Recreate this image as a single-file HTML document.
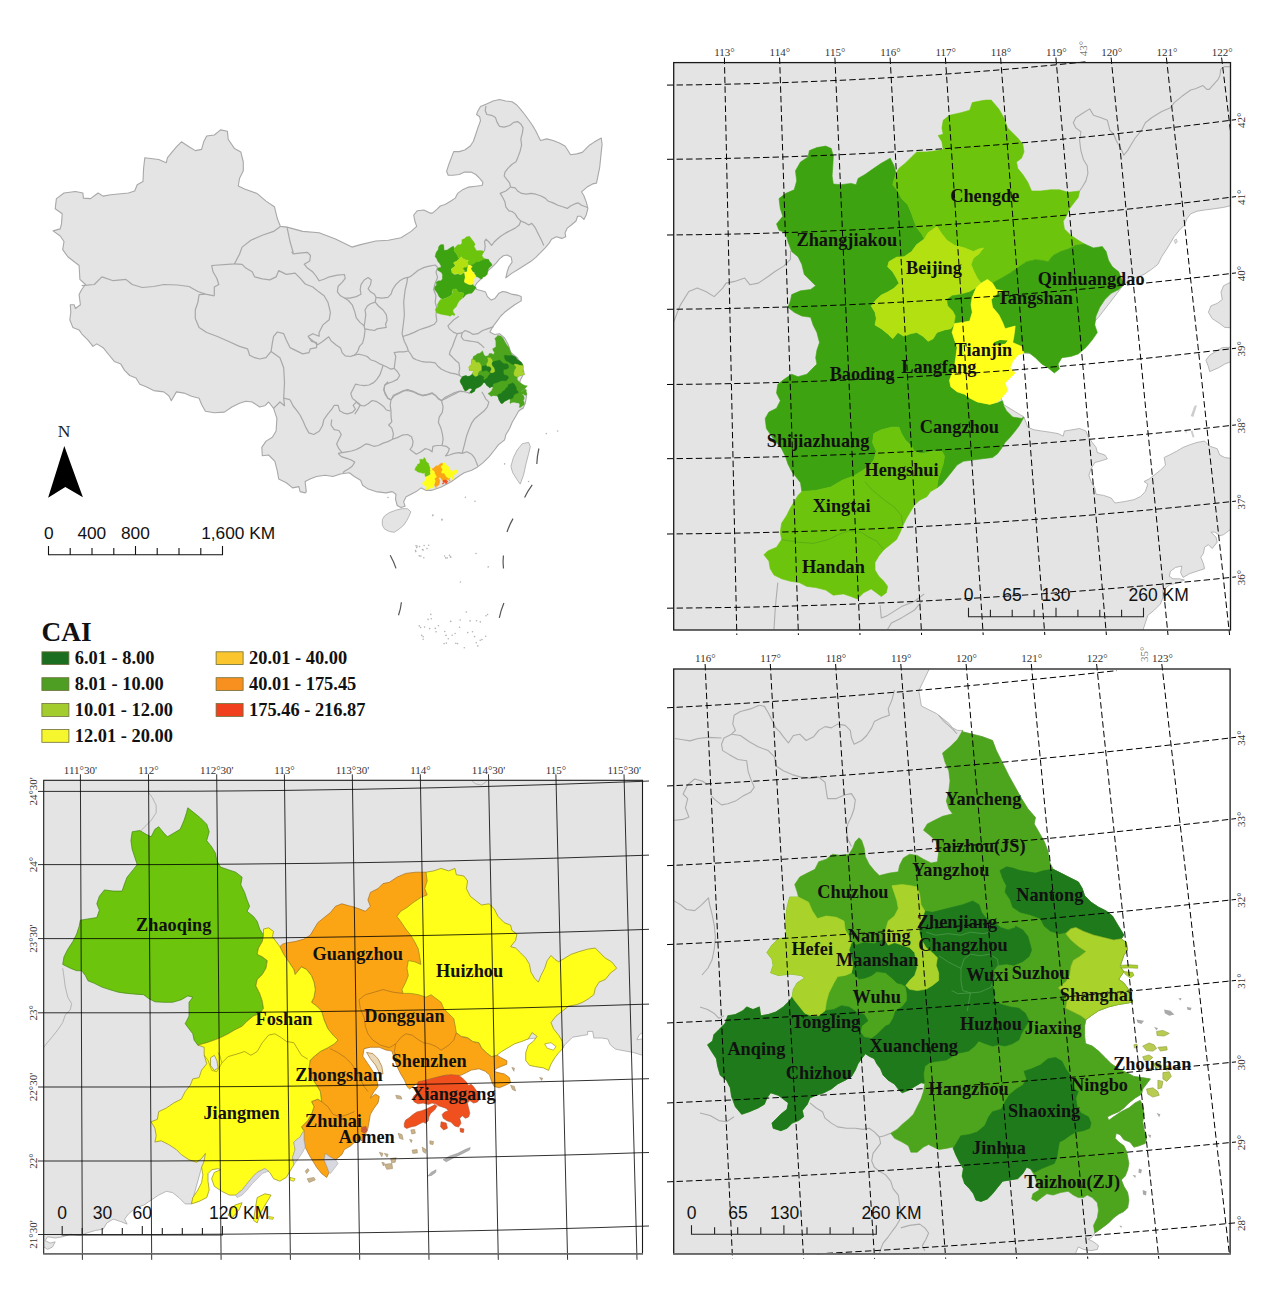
<!DOCTYPE html>
<html><head><meta charset="utf-8"><title>CAI map</title>
<style>
html,body{margin:0;padding:0;background:#fff;}
body{width:1267px;height:1299px;overflow:hidden;font-family:"Liberation Sans",sans-serif;}
svg{display:block;}
.ser{font-family:"Liberation Serif",serif;}
.san{font-family:"Liberation Sans",sans-serif;}
.lab{font-family:"Liberation Serif",serif;font-weight:bold;font-size:18.3px;fill:#111;}
.deg{font-family:"Liberation Serif",serif;font-size:11px;fill:#333;}
</style></head><body>
<svg width="1267" height="1299" viewBox="0 0 1267 1299">
<!-- 10_china.py -->
<path d="M220.6,129.9 227.4,131.2 228.2,139.3 234.5,148.6 240.8,151.9 243.3,162 243.3,170.8 239.5,178.4 238.3,186 244.6,189 257.2,193.6 266,201.1 274.4,206.7 277.4,218.8 280.4,226.4 287,227.1 302.7,231.4 319.1,232.7 335.5,239 351.9,247.1 360.6,244.6 375.8,241 388.4,240.3 401,237.8 411.1,231.4 416.7,226.4 414.9,221.3 413.7,215 417.4,210.7 423.8,210 430,213.1 432.4,213.1 437.1,209.2 440.3,206 445,204.4 450.5,201.3 455.3,198.1 457.6,193.4 463.1,189.4 468.7,187.1 475.8,186.3 482.1,185.5 482.9,182.3 479.7,178.4 475.8,174.5 471,172.1 464.7,172.1 459.2,174.5 452.9,175.2 448.2,175.2 446.6,171.3 448.9,164.2 451.3,157.9 453.7,151.6 459.2,151.6 464.7,150 470.3,146 473.4,141.3 475.8,134.2 478.1,127.1 480.5,120.8 479.7,116.8 476.6,114.5 477.4,112.1 480.5,106.6 486,104.2 493.1,101 499.5,99.5 505.8,101 512.1,101.8 516.8,105 520.8,109.7 524.7,114.5 528.7,120 532.6,125.5 535.8,131 538.1,135.8 540.5,140.5 546.8,138.9 553.1,140.5 559.4,142.9 565,146 568.1,150.8 570.5,154.7 576.8,153.9 582.3,152.4 585.5,149.2 589.4,145.2 594.2,142.1 601.3,138.1 602.1,144.5 601.3,151.6 600.5,159.5 599.7,167.3 598.1,175.2 596.5,183.1 592.6,183.9 587.1,187.1 581.5,191.8 583.9,195.8 586.3,202.1 587.9,208.4 586.3,214.7 583.9,219.4 580.7,216.3 577.6,216.3 576,221 571.3,225 567.3,228.1 565,232.9 565.8,236.8 561.8,238.4 556.3,236.8 551.5,239.2 549.2,243.1 545.2,247.9 540.5,252.6 535.8,257.3 531,261.3 524.7,265.2 518.4,269.2 512.1,273.1 505.8,277.8 507.3,271.5 508.9,266.8 512.1,262.1 511.3,257.3 507.3,255 503.4,255.7 499.5,258.9 496.3,262.8 492.4,266.8 488.2,270.6 485.6,274.4 480.6,279.4 476.8,283.2 474.3,287 476.8,289.5 481.8,290.8 485.6,292.1 487.4,296.6 491.2,300.1 495,298.4 498.8,293.3 502.6,291.5 506.3,292.1 511.4,294.1 517.2,295.1 521.2,296.6 521.2,300.9 514.7,304.7 509.6,308.5 504.6,312.3 500.8,316 497,321.1 493.2,326.1 489.9,332 494.5,334.5 499.5,333.7 504.6,338 508.4,345.1 510.9,352.7 517.2,357.7 522.3,365.3 524,372.9 520.2,380.4 519.2,386.8 524.8,389.3 526.6,395.6 525.3,403.2 522.8,408.7 522.3,408.3 518.5,411.3 515.9,415.9 512.2,422.2 509.6,428.5 505.8,434.8 504.6,439.9 498.3,444.9 494.5,450 489.4,456.3 483.1,462.6 476.8,467.6 471.7,470.2 464.2,472.7 459.1,476 451.5,481.5 441.4,487.1 431.3,490.4 426.3,490.4 421.2,487.9 416.2,491.6 411.1,494.2 406.1,496.7 403.6,501.7 405.1,506.3 401,507.6 397.2,505.5 395.5,499.2 396,494.2 392.2,491.6 385.9,492.9 375.8,491.6 368.2,489.1 362.6,485.3 360.6,480.3 354.3,476.5 349.3,472.7 340.4,474 332.8,476.5 325.3,475.2 316.4,476.5 310.1,479 305.1,481.5 306.3,491.6 305.2,492.9 300.1,491.6 298.9,486.6 292.6,487.9 286.3,482.8 278.7,479 277.4,471.4 274.9,461.3 268.6,455 262.3,455.8 261.8,447.4 266,441.1 272.4,437.3 276.1,431 276.9,418.4 273.6,408.3 268.6,402 264.8,405.8 259.7,407 252.2,402 245.8,401.2 239.5,403.2 231.9,407 224.4,412.1 214.3,412.8 205.4,411.3 201.6,404.5 199.1,398.2 191.5,396.2 184,393.1 176.4,391.9 171.3,400.7 168.8,395.7 163.8,391.9 153.7,390.6 146.1,386.8 139.8,384.3 136,378 129.7,375.5 124.6,370.4 120.8,364.1 114.5,361.6 108.2,354 103.1,347.7 96.8,343.9 93,346.4 88,340.1 81.7,333.8 79.1,329.9 72.8,327.4 69.8,319.8 70.8,312.3 70.3,304.7 74.1,304.7 75.4,308.5 80.4,304.7 79.1,294.6 81.7,289.5 85.5,284.5 79.9,279.4 79.1,265.5 67.8,256.7 62.7,249.6 64,241.5 60.2,236 53.1,230.9 60.2,228.9 61.5,223.9 62.2,213.8 55.2,208.7 56.4,198.6 64,193 75.4,191.5 82.9,193 83.4,198.1 90.5,198.6 98.1,193 103.1,196.1 110.7,194.8 128.4,193 134.7,191 137.2,184.7 143,181.4 143.6,168.3 144.8,157.7 158.7,159.5 166.3,162.7 167.5,157.7 176.4,146.8 181.4,141.8 189,146.8 195.3,150.6 201.6,149.4 203.7,141.8 206.7,136 214.3,135Z" fill="#e4e4e4" stroke="#a8a8a8" stroke-width="1.1" stroke-linejoin="round" />
<path d="M382.3,519.7 384.7,515.8 389.4,512.6 395.8,510.2 402.1,508.7 407.6,508.7 410.8,511.8 409.2,515.8 406.8,520.5 403.7,525.2 398.9,529.2 394.2,532.3 389.4,531.5 384.7,529.2 382.3,525.2Z" fill="#e4e4e4" stroke="#a8a8a8" stroke-width="0.8" stroke-linejoin="round" />
<path d="M522.3,443.7 528.6,442.4 530.3,446.7 528.6,453.8 526,463.9 523.5,475.2 520.2,484.1 516.7,479 512.7,472.7 510.9,466.4 513.4,457.5 517.2,450Z" fill="#e4e4e4" stroke="#a8a8a8" stroke-width="0.8" stroke-linejoin="round" />
<path d="M81.7,285.7 94.3,284.5 101.9,276.9 113.2,280.7 125.9,279.4 132.2,284.5 142.3,287.5 153.7,286.5 163.8,284.5 177.6,285 189,286.5 197.9,291.5 205.4,294.1 214.3,295.8" fill="none" stroke="#a8a8a8" stroke-width="1.2" stroke-linejoin="round" />
<path d="M214.3,295.8 214.3,287 218.8,284.5 216.8,278.2 213,271.8 211.7,265.5 234.5,263.8 239.5,254.2 242.1,247.1 250.9,240.3 262.3,235.2 273.6,231.4 280.4,226.4" fill="none" stroke="#a8a8a8" stroke-width="1.2" stroke-linejoin="round" />
<path d="M234.5,263.8 242.1,264.3 245.8,268.1 252.2,271.8 254.7,276.9 262.3,278.9 269.8,279.9 276.1,276.9 278.7,270.6 286.3,274.4 295.1,273.1 300.1,278.2 305.2,284 312.8,287 319.1,292.1 324.1,295.8 327.9,302.2 330.4,312.3 329.2,319.8 322.9,324.9 319.1,332.5 319.1,336.3 312.8,333.7 308.2,336.3 311.5,341.3 316.6,342.6 316.6,347.6 310.2,348.9 309,352.7 302.7,353.9 295.1,350.1 290,347.6 286.3,340 283.7,333.7 277.4,332 273.6,336.3 272.4,342.6 271.1,351.4 266,357.7 259.7,359 254.7,357.7 249.6,355.2 247.6,348.9 239.5,346.4 228.2,341.3 216.8,336.3 206.7,332.5 199.1,327.4 195.3,318.6 195.3,309.7 197.9,302.2 199.1,294.6 205.4,294.1" fill="none" stroke="#a8a8a8" stroke-width="1.2" stroke-linejoin="round" />
<path d="M271.1,351.4 279.9,357.7 283.7,367.8 284.5,383 283.7,398.1 284.5,405.8 279.9,402 273.6,408.3" fill="none" stroke="#a8a8a8" stroke-width="1.2" stroke-linejoin="round" />
<path d="M287,227.1 290,241.5 293.3,252.9" fill="none" stroke="#a8a8a8" stroke-width="1.2" stroke-linejoin="round" />
<path d="M283.7,398.2 290,399.7" fill="none" stroke="#a8a8a8" stroke-width="1.2" stroke-linejoin="round" />
<path d="M291.6,251.6 293.2,253.9 299.5,253.1 307.4,252.4 310.5,255.5 309.7,261 304.2,264.2 307.4,268.1 312.9,272.1 316,276 319.2,280.8 323.9,279.2 329.5,276.8 337.4,275.2 344.5,274.5 345.2,278.4 342.1,282.4 338.1,286.3 337.4,291.8 340.5,295.8 344.5,298.1 350,298.1 356.3,296.6 361,294.2 360.2,289.5 361,284.7 364.2,280 368.1,277.6 371.3,280 370.5,284.7 368.1,288.7 370.5,291.8 374.5,294.2 376,297.3 381.6,298.1 387.9,297.3 391,294.2 392.6,289.5 395.8,284.7 399.7,280.8 403.7,278.4 410,276.8 413.1,274.5 417.9,270.5 424.2,267.4 430.5,265.8 435.2,265 437.6,267.4" fill="none" stroke="#a8a8a8" stroke-width="1.2" stroke-linejoin="round" />
<path d="M308.9,337.6 313.7,341.5 317.6,344.7 321.6,342.3 325.5,339.2 328.7,336.8 331,340.8 335.8,344.7 340.5,347.9 342.1,352.6 345.2,355.8 350.8,356.5 353.1,355.4" fill="none" stroke="#a8a8a8" stroke-width="1.2" stroke-linejoin="round" />
<path d="M344.5,298.1 348.4,300.5 352.4,305.2 354.7,311.6 356.3,317.9 360.2,322.6 364.2,325.8 365,321 365.8,314.7 365,310 367.3,306 370.5,303.7 375.2,302.1 376,297.3" fill="none" stroke="#a8a8a8" stroke-width="1.2" stroke-linejoin="round" />
<path d="M407.6,277.6 406.8,283.1 405.2,289.5 404.4,295.8 403.7,302.1 404,308.4 404.4,314.7 403.7,321 402.9,327.3 402.1,333.7 402.9,336.8" fill="none" stroke="#a8a8a8" stroke-width="1.2" stroke-linejoin="round" />
<path d="M437.6,267.4 436,272.1 437.6,277.6 435.2,283.1 433.6,289.5 436,295.8 435.2,302.1 436.8,308.4 436,314.7 436.8,321 434.4,324.2 428.9,326.6 424.2,328.1 419.4,329.7 414.7,332.1 409.2,334.4 402.9,336.5" fill="none" stroke="#a8a8a8" stroke-width="1.2" stroke-linejoin="round" />
<path d="M364.2,325.8 365,330.5 364.2,336.8 362.6,343.1 359.5,346.3 357.9,351 355.5,354.2 353.1,355.8" fill="none" stroke="#a8a8a8" stroke-width="1.2" stroke-linejoin="round" />
<path d="M375.2,302.1 378.4,306 383.1,310 386.3,314.7 387.1,320.2 385.5,324.2 386.3,327.3 381.6,328.1 376.8,328.9 374.5,330.5 368.9,329.7 365,328.9" fill="none" stroke="#a8a8a8" stroke-width="1.2" stroke-linejoin="round" />
<path d="M353.1,355.8 357.9,354.2 362.6,355 367.3,356.5 370.5,359.7 375.2,361.3 379.2,363.6 383.1,365.2 386.3,366.8 391,369.2 394.2,368.4 395,362.1 395.8,356.5 394.2,352.6 398.9,351.8 403.7,351.8 408.4,351" fill="none" stroke="#a8a8a8" stroke-width="1.2" stroke-linejoin="round" />
<path d="M402.9,336.8 404.4,341.5 406.8,346.3 408.4,351 410.8,354.2 413.1,358.1 416.3,359.7 421,361.3 425.8,362.1 430.5,362.1 435.2,362.9 437.6,366 441.5,369.2 446.3,371.5 451,373.1 455.7,373.9 459.7,375.5" fill="none" stroke="#a8a8a8" stroke-width="1.2" stroke-linejoin="round" />
<path d="M458.9,316.3 454.2,319.4 451,322.6 447.9,325.8 449.4,328.9 453.4,332.1 457.3,333.7 455.7,337.6 454.2,341.5 452.6,346.3 450.2,351 449.4,354.2 452.6,357.3 455.7,360.5 458.9,362.9 459.7,368.4 458.9,373.1 459.7,375.5 462.8,377.9" fill="none" stroke="#a8a8a8" stroke-width="1.2" stroke-linejoin="round" />
<path d="M457.3,333.7 462.1,332.9 465.2,330.5 469.2,332.1 473.1,334.4 477.8,333.7 482.6,330.5 487.3,328.9 493.6,326.6" fill="none" stroke="#a8a8a8" stroke-width="1.2" stroke-linejoin="round" />
<path d="M462.1,332.9 461.3,336.8 463.6,340 468.4,340.8 473.1,341.5 477.8,342.3 481,344.7 484.2,347.9" fill="none" stroke="#a8a8a8" stroke-width="1.2" stroke-linejoin="round" />
<path d="M383.1,365.2 381.6,370 380,374.7 376.8,379.4 373.7,382.6 368.9,385 364.2,385.7 359.5,385 355.5,384.2 353.1,388.9 350.8,393.6 352.4,398.4 356.3,401.5 360.2,404.7 357.9,409.4 354.7,414.2" fill="none" stroke="#a8a8a8" stroke-width="1.2" stroke-linejoin="round" />
<path d="M394.2,368.4 397.3,371.5 399.7,375.5 397.3,379.4 392.6,381.8 387.9,383.4 384.7,385 383.9,389.7 385.5,393.6 387.9,398.4 391,400" fill="none" stroke="#a8a8a8" stroke-width="1.2" stroke-linejoin="round" />
<path d="M391,400 393.4,395.2 398.9,392.8 403.7,390.5 407.6,389.7 413.1,391.3 417.9,393.6 422.6,395.2 427.3,394.4 432.1,392.8 435.2,395.2 438.4,398.4 441.5,400.7 444.7,397.6 449.4,395.2 454.2,392.8 458.9,391.3 462.8,391.7" fill="none" stroke="#a8a8a8" stroke-width="1.2" stroke-linejoin="round" />
<path d="M486,105.8 485.2,110.5 486.8,114.5 491.6,115.3 495.5,117.6 497.1,122.4 499.5,126.3 504.2,127.1 509.7,125.5 513.7,122.4 517.6,121.6 520.8,123.9 523.1,127.9 522.3,133.4 520.8,138.9 521.6,145.2 520,151.6 517.6,157.9 516,161.8 512.1,164.2 508.1,168.1 505,172.1 504.2,176 506.6,179.2 509.7,183.1 510.5,187.1" fill="none" stroke="#a8a8a8" stroke-width="1.2" stroke-linejoin="round" />
<path d="M510.5,187.1 515.2,187.9 517.6,191 521.6,193.4 526.3,194.2 531,193.4 535.8,194.2 540.5,195.8 545.2,198.1 548.4,201.3 553.1,202.9 557.9,205.2 562.6,206.8 567.3,208.4 570.5,206 575.2,203.7 578.4,202.9 581.5,205.2 585.5,206.8 587.9,207.6" fill="none" stroke="#a8a8a8" stroke-width="1.2" stroke-linejoin="round" />
<path d="M510.5,187.1 505.8,191 500.2,193.4 502.6,197.3 505,202.1 505.8,206.8 508.9,210.8 512.1,211.5 515.2,213.9 517.6,217.9 520.8,221" fill="none" stroke="#a8a8a8" stroke-width="1.2" stroke-linejoin="round" />
<path d="M520.8,221 524.7,222.6 528.7,225 531.8,223.4 535,227.3 537.3,232.1 539.7,236.8 542.1,241.5 543.7,245.5" fill="none" stroke="#a8a8a8" stroke-width="1.2" stroke-linejoin="round" />
<path d="M520.8,221 519.2,225 515.2,228.1 510.5,230.5 505.8,232.9 501,236 497.1,239.2 493.9,242.3 491.6,245.5 489.2,242.3 486,239.2 484.5,241.5 485.2,246.3 484.5,251" fill="none" stroke="#a8a8a8" stroke-width="1.2" stroke-linejoin="round" />
<path d="M290,399.7 293.2,406 297.1,410.8 300.3,415.5 303.4,421.8 305.8,427.4 308.9,432.9 313.7,434.5 319.2,431.3 322.4,425.8 323.9,419.5 327.9,413.9 331.8,409.2 334.2,405.3 338.1,405.3 339.7,410.8 343.7,413.1 347.6,413.9 352.4,412.4 355.5,409.2 353.1,405.3 356.3,402.1" fill="none" stroke="#a8a8a8" stroke-width="1.2" stroke-linejoin="round" />
<path d="M331.8,419.5 331,425 334.2,429.7 338.9,430.5 341.3,434.5 338.9,439.2 336.6,443.9 338.9,448.7 342.1,452.6 338.1,453.4" fill="none" stroke="#a8a8a8" stroke-width="1.2" stroke-linejoin="round" />
<path d="M342.1,452.6 346.8,451.8 351.6,451 356.3,449.5 361,447.1 365.8,443.9 369.7,444.7 373.7,446.3 378.4,445.5 383.1,443.1 387.9,441.6 392.6,439.2 393.4,433.7 391.8,428.1 388.7,425 391.8,421.8 391,416.3 391,410.8 390.2,405.3 391,399.7 387.9,398.2 385.5,395 383.9,390.3 384.7,385.5 387.9,381.6" fill="none" stroke="#a8a8a8" stroke-width="1.2" stroke-linejoin="round" />
<path d="M356.3,402.1 360.2,405.3 364.2,406 368.1,403.7 372.1,400.5 376,401.3 380,403.7 383.9,406.8 386.3,410 390.2,410.8" fill="none" stroke="#a8a8a8" stroke-width="1.2" stroke-linejoin="round" />
<path d="M338.1,453.4 341.3,456.6 346,458.1 350.8,459.7 354.7,462.1 352.4,466 349.2,468.4 345.2,470.8 342.9,472.8" fill="none" stroke="#a8a8a8" stroke-width="1.2" stroke-linejoin="round" />
<path d="M392.6,439.2 397.3,437.6 402.1,435.2 407.6,434.5 411.5,436.8 413.1,441.6 412.3,446.3 410,449.5 413.1,451.8 416.3,454.2 421,451.8 425,448.7 428.9,449.5 432.1,451.8 432.9,446.3 436.8,445.5 441.5,445.5 446.3,446.3 449.4,448.7 447.9,452.6 445.5,455.8 449.4,455 454.2,453.4 458.9,452.6 462.1,453.4 466.8,451.8 471.5,454.2 474.7,458.1 476.3,462.1 477.8,466" fill="none" stroke="#a8a8a8" stroke-width="1.2" stroke-linejoin="round" />
<path d="M441.5,445.5 442.3,444.7 443.1,439.2 442.3,433.7 440.7,427.4 438.4,422.6 439.2,417.1 442.3,412.4 443.1,406.8 441.5,400.5 438.4,398.9 436,395.8 432.1,393.4 427.3,395 422.6,395.8 417.9,394.2 413.1,391.8 407.6,390.3 403.7,391 398.9,393.4 394.2,395.8 391,399.7" fill="none" stroke="#a8a8a8" stroke-width="1.2" stroke-linejoin="round" />
<path d="M462.1,453.4 463.6,447.9 465.2,441.6 466.8,435.2 469.2,428.9 471.5,423.4 474.7,418.7 479.4,414.7 484.2,410.8 487.3,406.8 488.9,402.1 485.7,398.9 484.2,395.8 481.8,391.8" fill="none" stroke="#a8a8a8" stroke-width="1.2" stroke-linejoin="round" />
<path d="M441.5,400.5 446.3,398.2 451,395.8 455.7,393.4 460.5,391 465.2,391.8 470,393.4" fill="none" stroke="#a8a8a8" stroke-width="1.2" stroke-linejoin="round" />
<path d="M538.9,448.5 Q537.05,456.2 536.8,463.9" fill="none" stroke="#555" stroke-width="1.2"/>
<path d="M532.2,484.8 Q527.6000000000001,491.1 524.6,497.4" fill="none" stroke="#555" stroke-width="1.2"/>
<path d="M513,518.6 Q509.2,525.3 507,532" fill="none" stroke="#555" stroke-width="1.2"/>
<path d="M503.4,555.5 Q502.65,562.0 503.5,568.5" fill="none" stroke="#555" stroke-width="1.2"/>
<path d="M503.9,603 Q500.8,610.4 499.3,617.8" fill="none" stroke="#555" stroke-width="1.2"/>
<path d="M390.2,555.2 Q393.90000000000003,561.8 396,568.4" fill="none" stroke="#555" stroke-width="1.2"/>
<path d="M401.4,602.3 Q400.75,608.75 398.5,615.2" fill="none" stroke="#555" stroke-width="1.2"/>
<circle cx="465.4" cy="497.2" r="0.8" fill="#b4b4b4"/>
<circle cx="475.0" cy="501.2" r="0.8" fill="#b4b4b4"/>
<circle cx="441.9" cy="519.4" r="0.8" fill="#b4b4b4"/>
<circle cx="432.6" cy="515.6" r="0.8" fill="#b4b4b4"/>
<circle cx="476.0" cy="553.5" r="0.8" fill="#b4b4b4"/>
<circle cx="488.2" cy="566.9" r="0.8" fill="#b4b4b4"/>
<circle cx="460.4" cy="582.0" r="0.8" fill="#b4b4b4"/>
<circle cx="504.6" cy="463.9" r="0.8" fill="#b4b4b4"/>
<circle cx="546.3" cy="433.6" r="0.8" fill="#b4b4b4"/>
<circle cx="557.6" cy="431.0" r="0.8" fill="#b4b4b4"/>
<circle cx="528.6" cy="481.5" r="0.8" fill="#b4b4b4"/>
<circle cx="388.0" cy="497.5" r="0.8" fill="#b4b4b4"/>
<circle cx="433.0" cy="515.0" r="0.8" fill="#b4b4b4"/>
<circle cx="442.0" cy="520.0" r="0.8" fill="#b4b4b4"/>
<circle cx="419.5" cy="546.6" r="0.8" fill="#b4b4b4"/>
<circle cx="424.1" cy="545.5" r="0.8" fill="#b4b4b4"/>
<circle cx="422.5" cy="549.6" r="0.8" fill="#b4b4b4"/>
<circle cx="415.8" cy="551.6" r="0.8" fill="#b4b4b4"/>
<circle cx="415.5" cy="550.6" r="0.8" fill="#b4b4b4"/>
<circle cx="416.0" cy="545.8" r="0.8" fill="#b4b4b4"/>
<circle cx="420.9" cy="556.1" r="0.8" fill="#b4b4b4"/>
<circle cx="416.7" cy="547.6" r="0.8" fill="#b4b4b4"/>
<circle cx="423.8" cy="557.8" r="0.8" fill="#b4b4b4"/>
<circle cx="423.1" cy="550.1" r="0.8" fill="#b4b4b4"/>
<circle cx="428.7" cy="545.2" r="0.8" fill="#b4b4b4"/>
<circle cx="427.0" cy="548.6" r="0.8" fill="#b4b4b4"/>
<circle cx="417.0" cy="546.1" r="0.8" fill="#b4b4b4"/>
<circle cx="419.3" cy="555.9" r="0.8" fill="#b4b4b4"/>
<circle cx="445.8" cy="557.9" r="0.8" fill="#b4b4b4"/>
<circle cx="450.4" cy="556.9" r="0.8" fill="#b4b4b4"/>
<circle cx="449.5" cy="555.3" r="0.8" fill="#b4b4b4"/>
<circle cx="444.6" cy="556.0" r="0.8" fill="#b4b4b4"/>
<circle cx="450.8" cy="557.1" r="0.8" fill="#b4b4b4"/>
<circle cx="447.1" cy="557.9" r="0.8" fill="#b4b4b4"/>
<circle cx="450.7" cy="621.4" r="0.8" fill="#b4b4b4"/>
<circle cx="474.6" cy="636.6" r="0.8" fill="#b4b4b4"/>
<circle cx="436.1" cy="631.8" r="0.8" fill="#b4b4b4"/>
<circle cx="455.8" cy="643.3" r="0.8" fill="#b4b4b4"/>
<circle cx="470.1" cy="620.9" r="0.8" fill="#b4b4b4"/>
<circle cx="487.6" cy="614.5" r="0.8" fill="#b4b4b4"/>
<circle cx="448.3" cy="638.8" r="0.8" fill="#b4b4b4"/>
<circle cx="429.6" cy="628.6" r="0.8" fill="#b4b4b4"/>
<circle cx="421.7" cy="635.4" r="0.8" fill="#b4b4b4"/>
<circle cx="472.5" cy="631.8" r="0.8" fill="#b4b4b4"/>
<circle cx="480.3" cy="621.9" r="0.8" fill="#b4b4b4"/>
<circle cx="467.7" cy="632.6" r="0.8" fill="#b4b4b4"/>
<circle cx="459.6" cy="627.3" r="0.8" fill="#b4b4b4"/>
<circle cx="477.8" cy="645.9" r="0.8" fill="#b4b4b4"/>
<circle cx="452.2" cy="635.2" r="0.8" fill="#b4b4b4"/>
<circle cx="423.2" cy="636.7" r="0.8" fill="#b4b4b4"/>
<circle cx="464.3" cy="647.7" r="0.8" fill="#b4b4b4"/>
<circle cx="476.5" cy="620.8" r="0.8" fill="#b4b4b4"/>
<circle cx="446.0" cy="635.4" r="0.8" fill="#b4b4b4"/>
<circle cx="420.6" cy="627.5" r="0.8" fill="#b4b4b4"/>
<circle cx="430.8" cy="614.4" r="0.8" fill="#b4b4b4"/>
<circle cx="423.1" cy="639.2" r="0.8" fill="#b4b4b4"/>
<circle cx="428.1" cy="619.4" r="0.8" fill="#b4b4b4"/>
<circle cx="446.4" cy="643.1" r="0.8" fill="#b4b4b4"/>
<circle cx="424.6" cy="627.1" r="0.8" fill="#b4b4b4"/>
<circle cx="457.5" cy="643.6" r="0.8" fill="#b4b4b4"/>
<circle cx="476.3" cy="642.8" r="0.8" fill="#b4b4b4"/>
<circle cx="438.5" cy="625.8" r="0.8" fill="#b4b4b4"/>
<circle cx="444.1" cy="643.6" r="0.8" fill="#b4b4b4"/>
<circle cx="486.0" cy="615.7" r="0.8" fill="#b4b4b4"/>
<circle cx="431.3" cy="618.8" r="0.8" fill="#b4b4b4"/>
<circle cx="435.3" cy="628.4" r="0.8" fill="#b4b4b4"/>
<circle cx="460.2" cy="620.0" r="0.8" fill="#b4b4b4"/>
<circle cx="419.3" cy="625.9" r="0.8" fill="#b4b4b4"/>
<circle cx="444.8" cy="631.5" r="0.8" fill="#b4b4b4"/>
<circle cx="485.7" cy="636.2" r="0.8" fill="#b4b4b4"/>
<circle cx="455.1" cy="633.5" r="0.8" fill="#b4b4b4"/>
<circle cx="466.3" cy="612.1" r="0.8" fill="#b4b4b4"/>
<circle cx="482.0" cy="639.6" r="0.8" fill="#b4b4b4"/>
<circle cx="480.2" cy="640.3" r="0.8" fill="#b4b4b4"/>
<!-- 20_bth.py -->
<clipPath id="cbth"><rect x="673.7" y="62.6" width="556.8" height="567.4"/></clipPath>
<rect x="673.7" y="62.6" width="556.8" height="567.4" fill="#e4e4e4"/>
<g clip-path="url(#cbth)"><path d="M1233.7,204.9 1223.6,207.4 1214.7,208.7 1204.6,210 1197,211.2 1190.7,213.8 1186.9,218.8 1184.4,225.1 1179.4,230.2 1174.3,236.5 1170.5,242.8 1166.7,249.1 1161.7,256.7 1157.9,264.3 1151.6,269.3 1144,274.4 1133.9,278.2 1123.8,284.5 1098.5,317.3 1060.7,357.7 1022.8,352.7 1001.3,355.3 1001.3,403.2 1024,417.1 1027.8,427.2 1034.1,429.8 1041.7,431 1050.6,432.3 1058.1,433.6 1063.2,436.1 1064.4,431 1072,429.8 1079.6,428.5 1085.9,431 1088.4,437.3 1092.2,442.4 1096,447.4 1097.3,452.5 1104.9,455 1107.4,458.8 1101.1,460.8 1094.8,462.6 1091,468.9 1088.9,475.2 1091,481.5 1094.8,487.9 1096,494.2 1103.6,495.4 1111.2,498 1115,503 1123.8,501.7 1133.9,499.7 1140.2,496.7 1145.3,491.6 1147.8,484.1 1144,481.5 1149.1,479 1154.1,475.2 1160.4,470.2 1165.5,465.1 1164.2,457.5 1169.3,455 1176.8,451.2 1183.1,447.4 1189.5,444.9 1197,442.4 1204.6,441.1 1209.7,446.2 1217.2,448.7 1219.8,455 1224.8,457.5 1233.7,458.8Z" fill="#fff" stroke="#a8a8a8" stroke-width="0.8" stroke-linejoin="round" /><path d="M1233.7,527 1223.6,534.6 1219.8,535.8 1214.7,532.1 1210.9,532.1 1216,537.1 1217.2,542.2 1212.2,548.5 1208.4,544.7 1204.6,547.2 1203.4,553.5 1200.8,557.3 1203.4,563.6 1204.6,568.7 1197,571.2 1189.5,573.7 1183.1,577.5 1180.6,572.5 1181.9,566.1 1175.6,567.4 1170.5,571.2 1169.3,576.3 1173,578.8 1179.4,578.8 1184.4,580 1178.1,582.6 1169.3,585.1 1162.9,590.1 1162.9,597.7 1160.4,604 1154.1,610.3 1147.8,615.4 1145.3,623 1142,633.1 1233.7,633.1Z" fill="#fff" stroke="#a8a8a8" stroke-width="0.8" stroke-linejoin="round" /><path d="M1233.7,280.7 1223.6,285.7 1221,292.1 1222.3,299.6 1217.2,303.4 1210.9,305.9 1208.4,312.3 1212.2,318.6 1219.8,323.6 1224.8,327.4 1233.7,327.9Z" fill="#e4e4e4" stroke="#a8a8a8" stroke-width="0.8" stroke-linejoin="round" /><path d="M1233.7,347.1 1222.3,347.6 1216,351.4 1209.7,355.2 1205.9,360.2 1208.4,366.6 1209.7,371.6 1218.5,367.8 1224.8,364 1233.7,360.7Z" fill="#e4e4e4" stroke="#a8a8a8" stroke-width="0.8" stroke-linejoin="round" /><path d="M1174.3,240.3 1176.3,239 1177.3,242 1175.3,243.6Z" fill="#e4e4e4" stroke="#a8a8a8" stroke-width="0.6" stroke-linejoin="round" /><path d="M1190.7,415.9 1194.5,405.8 1197,405.3 1193.3,417.1Z" fill="#ccc" stroke="none" stroke-width="1" stroke-linejoin="round" /><path d="M1184.4,431 1186.9,429.8 1186.4,433.6Z" fill="#ccc" stroke="none" stroke-width="1" stroke-linejoin="round" /><path d="M1190.7,431 1192.5,430.5 1194.5,437.3 1192.5,437.3Z" fill="#ccc" stroke="none" stroke-width="1" stroke-linejoin="round" /><path d="M1079.6,191 1082.1,187.2 1085.9,180.9 1087.9,173.3 1087.2,165.8 1083.4,159.5 1080.9,150.6 1079.6,140.5 1080.9,131.7 1075.8,127.9 1073.3,122.8 1075.8,117.8 1083.4,112.7 1089.7,108.9 1093.5,115.3 1101.1,117.8 1107.4,120.3 1109.9,130.4 1113.7,134.2 1116.2,140.5 1121.3,149.4 1123.8,155.2 1127.6,150.6 1131.4,144.3 1135.2,138 1141.5,130.4 1145.3,122.8 1151.6,117.8 1161.7,111.5 1170.5,107.7 1174.3,102.6 1181.9,96.3 1190.7,90 1195.4,88.7 1203,85.6 1206.8,89.4 1209.3,89.4 1218.1,79.3 1220,75.5 1220.7,69.1 1224.4,66.6 1231.4,66.6" fill="none" stroke="#adadad" stroke-width="1.1" stroke-linejoin="round" /><path d="M673.6,322 680.3,305.1 688.8,291.5 697.3,288.1 705.8,291.5 714.2,296.6 722.7,288.1 726.1,283.1 734.6,281.4 744.7,278 749.8,284.7 758.3,283.1 768.5,276.3 775.3,271.2 783.7,266.1 790.5,259.3 790.5,250.8" fill="none" stroke="#adadad" stroke-width="1.1" stroke-linejoin="round" /><path d="M777.8,582.6 776.5,595.2 775.3,607.8 774,629.3" fill="none" stroke="#adadad" stroke-width="1.1" stroke-linejoin="round" /><path d="M880.1,605.3 881.3,617.9 887.6,615.4 901.5,606.6 914.2,601.5 924.3,593.9" fill="none" stroke="#adadad" stroke-width="1.1" stroke-linejoin="round" /><path d="M887.6,629.3 891.4,623 901.5,617.9 914.2,610.3 921.7,601.5" fill="none" stroke="#adadad" stroke-width="1.1" stroke-linejoin="round" /><path d="M809.4,150.6 808.1,156.9 800.5,162 795.5,170.8 796.7,180.9 794.2,189.8 785.4,193.6 779,198.6 780.3,208.7 782.8,216.3 776.5,223.9 779,230.2 785.4,232.7 787.9,241.5 791.7,251.6 798,256.7 801.8,264.3 804.3,274.4 810.6,280.7 815.7,285.7 810.6,289.5 800.5,290.8 791.7,294.6 790.4,300.9 787.9,307.2 794.2,312.3 801.8,316 810.6,317.3 813.1,324.9 816.9,332.5 818.2,337.6 819.5,342.6 816.9,350.2 815.7,357.8 816.9,364.1 811.9,369.1 806.8,374.2 798,376.7 791.7,374.2 784.1,379.3 777.8,384.3 776.5,393.1 780.3,400.7 776.5,408.3 768.9,412.1 765.2,418.4 766.4,428.5 771.5,436.1 776.5,442.4 781.6,448.7 785.4,456.3 787.9,463.9 791.7,471.4 796.7,477.8 800.5,482.8 801.8,491.6 815.7,490.4 830.8,487.1 842.2,480.3 853.6,476 861.1,471.4 868.7,466.4 873.8,460.1 876.3,451.2 872.5,442.4 873.8,433.6 881.3,429.8 891.4,427.2 899,427.2 901.5,433.6 905.3,439.9 911.6,446.2 914.2,451.2 921.7,453.8 931.8,451.2 941.9,451.2 944.5,456.3 943.2,463.9 940.7,471.4 938.2,479 936.9,487.9 941.9,484.1 947,477.8 952.1,471.4 957.1,465.1 963.4,461.3 972.3,460.1 982.4,458.8 992.5,457.5 997.5,453.8 1001.3,448.7 1005.1,442.4 1010.1,437.3 1015.2,431 1019,426 1024,417.1 1021.5,418.4 1012.7,417.1 1006.4,410.8 1003.8,405.8 1002.6,400.7 997.5,402.7 989.9,404.5 977.3,401.9 969.7,398.1 964.7,394.3 957.1,391.8 950.8,386.8 949.5,380.4 952.1,372.9 954.6,365.3 955.8,357.7 957.1,347.6 954.6,340 952.1,332.5 954.6,323.6 950.8,328.7 944.5,329.9 936.9,332.5 933.1,338.8 928.1,341.3 923,336.3 916.7,332.5 910.4,333.7 904.1,336.3 897.8,332.5 892.7,338.8 887.6,333.7 881.3,328.7 875,324.9 876.3,318.6 875,312.3 871.2,305.9 876.3,299.6 881.3,295.1 887.6,292.1 894,288.3 899,283.2 896.5,278.2 892.7,271.8 887.6,266.8 888.9,261.7 896.5,257.2 904.1,256.7 911.6,251.6 916.7,244.6 924.3,239 921.7,234 916.7,227.6 914.2,221.3 911.6,213.8 907.9,204.9 901.5,198.6 897.8,191 892.7,184.7 894,179.7 896,173.3 894,165.8 890.2,158.2 881.3,163.2 873.8,168.3 864.9,174.6 858.1,178.4 856.1,184.7 851,183.4 840.9,184.7 833.3,184 832.1,175.9 832.8,165.8 833.3,156.2 831.3,148.6 825.8,146.1 816.9,147.6Z" fill="#3ea310" stroke="#3ea310" stroke-width="0.6" stroke-linejoin="round" /><path d="M972.3,102.6 969.7,110.2 960.9,112.7 949.5,115.3 943.2,120.3 941.9,127.9 943.2,134.2 938.2,135.5 941.9,141.8 943.2,149.4 936.9,150.6 926.8,151.9 916.7,151.9 911.6,156.9 905.3,163.2 899,168.3 896,173.3 894,179.7 892.7,184.7 897.8,191 901.5,198.6 907.9,204.9 911.6,213.8 914.2,221.3 916.7,227.6 921.7,234 924.3,239 928.1,232.7 936.9,226.4 941.9,234 947,240.3 954.6,245.3 964.7,247.9 973.5,251.6 978.6,249.1 983.6,247.9 978.6,254.2 973.5,258 971,264.3 973.5,270.6 977.3,278.2 981.1,283.2 987.4,279.4 992.5,283.2 993.7,283.2 1001.3,278.2 1010.1,273.1 1019,266.8 1026.6,261.7 1035.4,259.7 1043,260.5 1048,261.7 1053.1,255.4 1060.7,251.6 1068.2,249.1 1075.8,245.3 1084.6,244.1 1078.3,240.3 1070.8,235.2 1064.4,228.9 1063.2,221.3 1067,215 1069.5,208.7 1073.3,203.7 1078.3,197.3 1079.6,191 1068.2,192.3 1059.4,189.8 1050.6,189.8 1040.4,191 1031.6,191 1027.8,182.2 1022.8,174.6 1017.7,168.3 1016.5,162 1021.5,158.2 1024,151.9 1022.8,144.3 1017.7,138 1007.6,127.9 1003.8,117.8 998.8,108.9 991.2,100.1 986.1,100.1 982.4,100.6Z" fill="#6cc40c" stroke="#6cc40c" stroke-width="0.6" stroke-linejoin="round" /><path d="M936.9,226.4 941.9,234 947,240.3 954.6,245.3 964.7,247.9 973.5,251.6 978.6,249.1 983.6,247.9 978.6,254.2 973.5,258 971,264.3 973.5,270.6 977.3,278.2 981.1,283.2 976,288.3 969.7,292.1 960.9,294.6 952.1,295.8 947,299.6 948.3,305.9 953.3,311 955.8,316 954.6,323.6 950.8,328.7 944.5,329.9 936.9,332.5 933.1,338.8 928.1,341.3 923,336.3 916.7,332.5 910.4,333.7 904.1,336.3 897.8,332.5 892.7,338.8 887.6,333.7 881.3,328.7 875,324.9 876.3,318.6 875,312.3 871.2,305.9 876.3,299.6 881.3,295.1 887.6,292.1 894,288.3 899,283.2 896.5,278.2 892.7,271.8 887.6,266.8 888.9,261.7 896.5,257.2 904.1,256.7 911.6,251.6 916.7,244.6 924.3,239 928.1,232.7Z" fill="#b2e010" stroke="#b2e010" stroke-width="0.6" stroke-linejoin="round" /><path d="M947,299.6 952.1,295.8 960.9,294.6 969.7,292.1 976,288.3 972.3,297.1 971,304.7 972.3,312.3 969.7,321.1 962.2,322.4 954.6,323.6 955.8,316 953.3,311 948.3,305.9Z" fill="#3ea310" stroke="#3ea310" stroke-width="0.6" stroke-linejoin="round" /><path d="M992.5,283.2 1001.3,278.2 1010.1,273.1 1019,266.8 1026.6,261.7 1035.4,259.7 1043,260.5 1048,261.7 1053.1,255.4 1060.7,251.6 1068.2,249.1 1075.8,245.3 1084.6,244.1 1093.5,247.9 1102.3,246.6 1106.1,251.6 1108.6,260.5 1112.4,266.8 1118.7,271.8 1121.3,278.2 1123.8,284.5 1118.7,289.5 1111.2,293.3 1104.9,299.6 1099.8,307.2 1096,316 1094.8,324.9 1097.3,332.5 1092.2,340 1085.9,347.6 1078.3,353.9 1070.8,356.5 1061.9,357.7 1058.1,364 1059.4,369.1 1054.3,372.9 1048,367.8 1041.7,364 1035.4,357.7 1029.1,352.7 1022.8,352.7 1021.5,346.4 1012.7,342.6 1013.9,336.3 1015.2,326.1 1005.1,328.7 1002.6,322.4 998.8,314.8 992.5,307.2 991.2,299.6 996.3,294.6 1002.6,290.8 996.3,289.5Z" fill="#3ea310" stroke="#3ea310" stroke-width="0.6" stroke-linejoin="round" /><path d="M981.1,283.2 987.4,279.4 992.5,283.2 996.3,289.5 1002.6,290.8 996.3,294.6 991.2,299.6 992.5,307.2 998.8,314.8 1002.6,322.4 1005.1,328.7 1015.2,326.1 1013.9,336.3 1012.7,342.6 1021.5,346.4 1024,352.7 1017.7,355.2 1012.7,361.5 1010.1,367.8 1015.2,372.9 1010.1,377.9 1005.1,383 1007.6,390.6 1002.6,396.9 997.5,401.9 989.9,404.4 977.3,401.9 969.7,398.1 964.7,394.3 957.1,391.8 950.8,386.8 949.5,380.4 952.1,372.9 954.6,365.3 955.8,357.7 957.1,347.6 954.6,340 952.1,332.5 954.6,323.6 962.2,322.4 969.7,321.1 972.3,312.3 971,304.7 972.3,297.1 976,288.3Z" fill="#ffff1a" stroke="#ffff1a" stroke-width="0.6" stroke-linejoin="round" /><path d="M993.7,342.6 1000,340 1007.6,340.5 1005.1,343.8 996.3,345.1Z" fill="#3ea310" stroke="none" stroke-width="1" stroke-linejoin="round" /><path d="M801.8,491.6 815.7,490.4 830.8,487.1 842.2,480.3 853.6,476 861.1,471.4 868.7,466.4 873.8,460.1 876.3,451.2 872.5,442.4 873.8,433.6 881.3,429.8 891.4,427.2 899,427.2 901.5,433.6 905.3,439.9 911.6,446.2 914.2,451.2 921.7,453.8 931.8,451.2 941.9,451.2 944.5,456.3 943.2,463.9 940.7,471.4 938.2,479 936.9,487.9 930.6,491.6 926.8,496.7 919.2,500.5 914.2,505.5 910.4,511.8 906.6,518.2 902.8,525.7 900.3,532.1 896.5,539.6 890.2,544.7 883.9,549.7 878.8,556 875,562.4 875,569.9 878.8,576.3 883.9,581.3 887.6,586.4 886.4,592.7 881.3,596.5 876.3,592.7 871.2,588.9 863.7,592.7 857.3,599 851,596.5 843.4,593.9 833.3,595.2 825.8,590.1 815.7,587.6 806.8,586.4 799.3,582.6 790.4,581.3 781.6,578.8 774,575 770.2,568.7 768.9,561.1 763.9,554.8 767.7,551 776.5,547.2 781.6,539.6 780.3,532.1 781.6,523.2 786.6,515.6 790.4,508.1 794.2,501.7 798,495.4Z" fill="#6cc40c" stroke="#6cc40c" stroke-width="0.6" stroke-linejoin="round" /><path d="M864.9,481.5 871.2,489.1 878.8,495.4 886.4,501.7 894,506.8 901.5,515.6 902.8,525.7" fill="none" stroke="#58a818" stroke-width="0.8" stroke-linejoin="round" /><path d="M781.6,539.6 798,542.2 813.1,543.4 828.3,539.6 838.4,534.6 848.5,530.8 861.1,532.1 868.7,537.1 876.3,540.9 883.9,549.7" fill="none" stroke="#58a818" stroke-width="0.8" stroke-linejoin="round" /></g>
<g fill="none" stroke="#000" stroke-width="1" stroke-dasharray="6.4 3.2"><line x1="724.4" y1="57.6" x2="736.8" y2="635.0"/><line x1="779.6" y1="57.6" x2="798.4" y2="635.0"/><line x1="834.9" y1="57.6" x2="860.0" y2="635.0"/><line x1="890.1" y1="57.6" x2="921.6" y2="635.0"/><line x1="945.4" y1="57.6" x2="983.2" y2="635.0"/><line x1="1000.6" y1="57.6" x2="1044.8" y2="635.0"/><line x1="1055.9" y1="57.6" x2="1106.4" y2="635.0"/><line x1="1111.1" y1="57.6" x2="1168.0" y2="635.0"/><line x1="1166.4" y1="57.6" x2="1229.6" y2="635.0"/><line x1="1221.6" y1="57.6" x2="1230.5" y2="131.4"/><path d="M667,85.1 697,84.8 727,84.2 757,83.5 787,82.5 817,81.3 847,80 877,78.4 907,76.6 937,74.7 967,72.5 997,70.1 1027,67.5 1057,64.7 1087,61.7"/><path d="M667,159.3 697,159 727,158.4 757,157.7 787,156.8 817,155.7 847,154.4 877,152.9 907,151.1 937,149.2 967,147.1 997,144.9 1027,142.4 1057,139.7 1087,136.8 1117,133.7 1147,130.4 1177,127 1207,123.3 1236,119.6"/><path d="M667,235 697,234.7 727,234.2 757,233.5 787,232.6 817,231.5 847,230.2 877,228.8 907,227.1 937,225.3 967,223.3 997,221 1027,218.6 1057,216 1087,213.2 1117,210.3 1147,207.1 1177,203.8 1207,200.2 1236,196.6"/><path d="M667,309.3 697,309 727,308.5 757,307.8 787,307 817,306 847,304.8 877,303.4 907,301.8 937,300.1 967,298.2 997,296.1 1027,293.8 1057,291.3 1087,288.7 1117,285.9 1147,282.9 1177,279.7 1207,276.4 1236,272.9"/><path d="M667,384.5 697,384.2 727,383.7 757,383.1 787,382.2 817,381.2 847,380 877,378.6 907,377.1 937,375.3 967,373.4 997,371.3 1027,369 1057,366.6 1087,364 1117,361.1 1147,358.2 1177,355 1207,351.6 1236,348.2"/><path d="M667,458.7 697,458.4 727,458 757,457.3 787,456.6 817,455.6 847,454.5 877,453.2 907,451.8 937,450.1 967,448.4 997,446.4 1027,444.3 1057,442 1087,439.5 1117,436.9 1147,434.1 1177,431.2 1207,428.1 1236,424.9"/><path d="M667,534 697,533.7 727,533.3 757,532.7 787,531.9 817,531 847,529.9 877,528.7 907,527.2 937,525.7 967,523.9 997,522 1027,520 1057,517.7 1087,515.4 1117,512.8 1147,510.1 1177,507.2 1207,504.2 1236,501.1"/><path d="M667,608.2 697,607.9 727,607.5 757,607 787,606.2 817,605.3 847,604.3 877,603.1 907,601.8 937,600.3 967,598.6 997,596.8 1027,594.9 1057,592.8 1087,590.5 1117,588.1 1147,585.5 1177,582.8 1207,579.9 1236,576.9"/></g>
<rect x="673.7" y="62.6" width="556.8" height="567.4" fill="none" stroke="#1a1a1a" stroke-width="1.3"/>
<text class="deg" x="724.5" y="56" text-anchor="middle">113°</text>
<text class="deg" x="779.8" y="56" text-anchor="middle">114°</text>
<text class="deg" x="835.1" y="56" text-anchor="middle">115°</text>
<text class="deg" x="890.4" y="56" text-anchor="middle">116°</text>
<text class="deg" x="945.7" y="56" text-anchor="middle">117°</text>
<text class="deg" x="1001.0" y="56" text-anchor="middle">118°</text>
<text class="deg" x="1056.3" y="56" text-anchor="middle">119°</text>
<text class="deg" x="1111.6" y="56" text-anchor="middle">120°</text>
<text class="deg" x="1166.9" y="56" text-anchor="middle">121°</text>
<text class="deg" x="1222.2" y="56" text-anchor="middle">122°</text>
<text class="deg" transform="translate(1245.3,120.3) rotate(-90)" text-anchor="middle">42°</text>
<text class="deg" transform="translate(1245.3,197.3) rotate(-90)" text-anchor="middle">41°</text>
<text class="deg" transform="translate(1245.3,273.6) rotate(-90)" text-anchor="middle">40°</text>
<text class="deg" transform="translate(1245.3,348.9) rotate(-90)" text-anchor="middle">39°</text>
<text class="deg" transform="translate(1245.3,425.5) rotate(-90)" text-anchor="middle">38°</text>
<text class="deg" transform="translate(1245.3,501.7) rotate(-90)" text-anchor="middle">37°</text>
<text class="deg" transform="translate(1245.3,577.5) rotate(-90)" text-anchor="middle">36°</text>
<text class="deg" transform="translate(1086.5,48.5) rotate(-90)" fill-opacity="0.7" text-anchor="middle">43°</text>
<text class="lab" x="984.8" y="201.5" text-anchor="middle">Chengde</text>
<text class="lab" x="846.8" y="245.6" text-anchor="middle">Zhangjiakou</text>
<text class="lab" x="934.0" y="274.3" text-anchor="middle">Beijing</text>
<text class="lab" x="1091.2" y="285.3" text-anchor="middle">Qinhuangdao</text>
<text class="lab" x="1035.1" y="304.0" text-anchor="middle">Tangshan</text>
<text class="lab" x="983.4" y="355.8" text-anchor="middle">Tianjin</text>
<text class="lab" x="938.8" y="373.0" text-anchor="middle">Langfang</text>
<text class="lab" x="862.2" y="379.7" text-anchor="middle">Baoding</text>
<text class="lab" x="959.4" y="433.4" text-anchor="middle">Cangzhou</text>
<text class="lab" x="818.1" y="446.8" text-anchor="middle">Shijiazhuang</text>
<text class="lab" x="901.5" y="475.5" text-anchor="middle">Hengshui</text>
<text class="lab" x="841.6" y="511.5" text-anchor="middle">Xingtai</text>
<text class="lab" x="833.4" y="572.8" text-anchor="middle">Handan</text>
<path d="M968.5,607.7 V616.7 H1143.5 V607.7 M990.4,616.7 v-7 M1012.2,616.7 v-7 M1034.1,616.7 v-7 M1056.0,616.7 v-9 M1077.9,616.7 v-7 M1099.8,616.7 v-7 M1121.6,616.7 v-7" fill="none" stroke="#222" stroke-width="1.1"/>
<text class="san" x="968.5" y="600.8" font-size="17.5" fill="#111" text-anchor="middle">0</text>
<text class="san" x="1012" y="600.8" font-size="17.5" fill="#111" text-anchor="middle">65</text>
<text class="san" x="1056" y="600.8" font-size="17.5" fill="#111" text-anchor="middle">130</text>
<text class="san" x="1128.5" y="600.8" font-size="17.5" fill="#111">260 KM</text>
<!-- 30_yrd.py -->
<clipPath id="cyrd"><rect x="673.7" y="669.0" width="556.3999999999999" height="584.8"/></clipPath>
<rect x="673.7" y="669.0" width="556.3999999999999" height="584.8" fill="#e4e4e4"/>
<g clip-path="url(#cyrd)"><path d="M929,669.4 918.8,690.8 921.4,706 936.6,713.6 949.3,723.7 956.9,733.9 938.7,715.3 943.7,721.6 950,726.6 957.6,730.4 962.7,730.4 962.2,731.7 972.3,734.2 982.4,736.7 992.5,740.5 996.3,750.6 1002.6,763.2 1008.9,775.9 1015.2,787.2 1021.5,798.6 1027.8,808.7 1035.4,817.5 1034.1,823.9 1039.2,832.7 1044.2,841.5 1048,851.6 1049.3,861.7 1053.1,869.3 1060.7,873.1 1070.8,878.2 1078.3,881.9 1082.1,888.3 1084.6,895.8 1091,902.2 1098.5,907.2 1106.1,911 1112.4,916 1116.2,922.4 1120,928.7 1123.8,935 1121.3,938.8 1126.3,942.6 1127.6,950.1 1123.8,955.2 1121.3,962.8 1120,966.6 1123.8,971.6 1121.3,975.4 1118.7,979.2 1123.8,983 1127.6,988 1130.1,994.3 1132.6,1001.9 1132.6,1001.9 1127.6,1003.1 1118.7,1004.4 1108.6,1006.9 1098.5,1010.7 1091,1015.8 1085.9,1019.6 1084.6,1025.9 1084.6,1036 1085.4,1043.6 1092.2,1046.1 1098.5,1051.1 1104.9,1057.4 1111.2,1063.8 1118.7,1068.8 1126.3,1072.6 1133.9,1076.4 1141.5,1077.6 1150.3,1078.9 1146.5,1084 1142.7,1089 1141.5,1094.1 1135.2,1097.9 1128.8,1102.9 1123.8,1108 1118.7,1111.7 1112.4,1114.3 1107.4,1116.8 1108.6,1120.6 1113.7,1116.8 1121.3,1111.7 1128.8,1108 1135.2,1102.9 1140.2,1100.4 1142.7,1105.4 1144,1114.3 1142.7,1121.8 1144,1129.4 1146.5,1137 1145.3,1143.3 1138.9,1145.8 1133.9,1147.1 1130.1,1142.1 1123.8,1139.5 1120,1134.5 1116.2,1133.2 1115,1138.3 1118.7,1142.1 1123.8,1145.8 1126.3,1150.9 1127.6,1157.2 1128.8,1163.5 1127.6,1169.8 1125.1,1176.1 1121.3,1179.9 1123.8,1186.3 1127.6,1192.6 1128.8,1200.1 1127.6,1207.7 1123.8,1211.5 1118.7,1214 1113.7,1217.8 1108.6,1222.9 1103.6,1226.7 1098.5,1230.4 1094.8,1233 1092.2,1236.8 1088.4,1239.3 1093.5,1241.8 1098.5,1245.6 1097.3,1249.4 1091,1250.7 1083.4,1249.4 1078.3,1246.9 1074.5,1255.7 1235,1258 1235,665 929,665Z" fill="#fff" stroke="#a8a8a8" stroke-width="0.8" stroke-linejoin="round" /><path d="M894.5,690 891.9,700.1 888.2,708.9 889.4,715.3 881.8,717.8 874.3,721.6 871.7,727.9 866.7,735.5 861.6,740.5 854.1,744.3 851.5,738 850.3,730.4 845.2,725.4 837.6,724.1 831.3,727.9 825,726.6 818.7,730.4 813.7,736.7 806.1,740.5 799.8,734.2 793.4,735.5 788.4,743 783.3,736.7 779.6,731.7 775.8,727.9 772,720.3 768.2,712.7 764.4,706.4 759.4,705.2" fill="none" stroke="#adadad" stroke-width="1.1" stroke-linejoin="round" /><path d="M759.4,705.2 750.5,708.9 740.4,711.5 734.1,715.3 732.8,724.1 735.4,730.4 731.6,734.2 724,738 721.5,744.3 722.7,750.6 729,754.4 737.9,759.5 746.7,760.7 748,770.8 750.5,778.4 754.3,787.2 750.5,792.3 742.9,796.1 735.4,801.1 727.8,803.7 721.5,804.9 715.2,799.9 711.4,796.1" fill="none" stroke="#adadad" stroke-width="1.1" stroke-linejoin="round" /><path d="M731.6,734.2 740.4,735.5 749.3,741.8 758.1,746.8 768.2,750.6 774.5,756.9 775.8,765.8 783.3,770.8 792.2,774.6 801,777.1 811.1,778.4 818.7,777.1 825,782.2 826.3,791 827.5,798.6 836.4,798.6 845.2,794.8 851.5,793.6 855.3,799.9 854.1,808.7 851.5,816.3 847.8,823.9 846.5,831.4 847.8,839 851.5,846.6" fill="none" stroke="#adadad" stroke-width="1.1" stroke-linejoin="round" /><path d="M675,738.5 683.1,739.7 690,740.9 698.1,738.5 708.5,737.4 721.5,738" fill="none" stroke="#adadad" stroke-width="1.1" stroke-linejoin="round" /><path d="M707.4,784.7 702.7,781.3 694.7,779 687.7,784.7 683.1,794 687.7,798.6 685.4,807.8 688.9,817.1 683.1,819.4 673,820.5" fill="none" stroke="#adadad" stroke-width="1.1" stroke-linejoin="round" /><path d="M673,900.2 680.8,904.9 686.6,909.5 694.7,910.6 701.6,904.9 708.5,897.9 709.7,904.9 712,914.1 714.3,925.7 715.4,937.2 714.3,948.8 712,960.1 708,968 702,975" fill="none" stroke="#adadad" stroke-width="1.1" stroke-linejoin="round" /><path d="M700,1006.9 707.6,1009.5 713.9,1013.2 718.9,1018.3 724,1015.8" fill="none" stroke="#adadad" stroke-width="1.1" stroke-linejoin="round" /><path d="M700,1113 710.1,1115.5 718.9,1120.6 726.5,1121.8 734.1,1116.8" fill="none" stroke="#adadad" stroke-width="1.1" stroke-linejoin="round" /><path d="M809.9,1102.9 816.2,1108 822.5,1111.7 825,1118.1 831.3,1123.1 837.6,1126.9 846.5,1128.2 855.3,1128.2 862.9,1129.4 869.2,1128.2 874.3,1131.9 879.3,1137 884.4,1135.7 890.7,1133.2" fill="none" stroke="#adadad" stroke-width="1.1" stroke-linejoin="round" /><path d="M879.3,1137 880.6,1143.3 876.8,1148.4 873,1153.4 871.7,1161 874.3,1167.3 879.3,1171.1 885.6,1174.9 890.7,1181.2 893.2,1188.8 898.3,1195.1 899.5,1203.9 900.8,1212.8 899.5,1220.3 895.7,1226.7 891.9,1231.7 888.2,1236.8 883.1,1243.1 880.6,1249.4 879.3,1254.4" fill="none" stroke="#adadad" stroke-width="1.1" stroke-linejoin="round" /><path d="M900.8,1227.9 909.6,1225.4 919.7,1224.1 924.8,1227.9 928.6,1233 926,1239.3 922.3,1245.6 924.8,1250.7" fill="none" stroke="#adadad" stroke-width="1.1" stroke-linejoin="round" /><path d="M962.2,731.7 972.3,734.2 982.4,736.7 992.5,740.5 996.3,750.6 1002.6,763.2 1008.9,775.9 1015.2,787.2 1021.5,798.6 1027.8,808.7 1035.4,817.5 1034.1,823.9 1039.2,832.7 1044.2,841.5 1048,851.6 1049.3,861.7 1053.1,869.3 1060.7,873.1 1070.8,878.2 1078.3,881.9 1082.1,888.3 1084.6,895.8 1091,902.2 1098.5,907.2 1106.1,911 1112.4,916 1116.2,922.4 1120,928.7 1123.8,935 1121.3,938.8 1126.3,942.6 1127.6,950.1 1123.8,955.2 1121.3,962.8 1120,966.6 1123.8,971.6 1121.3,975.4 1118.7,979.2 1123.8,983 1127.6,988 1130.1,994.3 1132.6,1001.9 1132.6,1001.9 1127.6,1003.1 1118.7,1004.4 1108.6,1006.9 1098.5,1010.7 1091,1015.8 1085.9,1019.6 1084.6,1025.9 1084.6,1036 1085.4,1043.6 1092.2,1046.1 1098.5,1051.1 1104.9,1057.4 1111.2,1063.8 1118.7,1068.8 1126.3,1072.6 1133.9,1076.4 1141.5,1077.6 1150.3,1078.9 1146.5,1084 1142.7,1089 1141.5,1094.1 1135.2,1097.9 1128.8,1102.9 1123.8,1108 1118.7,1111.7 1112.4,1114.3 1107.4,1116.8 1108.6,1120.6 1113.7,1116.8 1121.3,1111.7 1128.8,1108 1135.2,1102.9 1140.2,1100.4 1142.7,1105.4 1144,1114.3 1142.7,1121.8 1144,1129.4 1146.5,1137 1145.3,1143.3 1138.9,1145.8 1133.9,1147.1 1130.1,1142.1 1123.8,1139.5 1120,1134.5 1116.2,1133.2 1115,1138.3 1118.7,1142.1 1123.8,1145.8 1126.3,1150.9 1127.6,1157.2 1128.8,1163.5 1127.6,1169.8 1125.1,1176.1 1121.3,1179.9 1123.8,1186.3 1127.6,1192.6 1128.8,1200.1 1127.6,1207.7 1123.8,1211.5 1118.7,1214 1113.7,1217.8 1108.6,1222.9 1103.6,1226.7 1098.5,1230.4 1094.8,1233 1093.5,1225.4 1097.3,1217.8 1098.5,1210.2 1097.3,1202.7 1092.2,1197.6 1087.2,1195.1 1083.4,1197.6 1078.3,1197.6 1073.3,1195.1 1068.2,1191.3 1060.7,1192.6 1053.1,1195.1 1046.8,1193.8 1041.7,1197.6 1036.7,1201.4 1031.6,1198.9 1032.9,1193.8 1039.2,1190 1036.7,1182.5 1034.1,1174.9 1030.3,1168.6 1026.6,1167.3 1022.8,1173.6 1017.7,1178.7 1010.1,1179.9 1002.6,1181.2 997.5,1187.5 992.5,1193.8 987.4,1198.9 981.1,1201.4 976,1200.1 973.5,1193.8 969.7,1188.8 964.7,1183.7 962.2,1176.1 963.4,1168.6 959.6,1162.3 955.8,1154.7 953.3,1148.4 952.6,1147.1 946.3,1148.4 938.7,1149.6 933.6,1147.1 928.6,1144.6 923.5,1147.1 917.2,1152.2 910.9,1152.2 908.4,1145.8 902.1,1142.1 894.5,1138.3 890.7,1133.2 897,1129.4 902.1,1124.4 908.4,1119.3 913.4,1114.3 917.2,1106.7 921,1099.1 923.5,1091.5 924.8,1084 921,1082.7 914.7,1086.5 908.4,1090.3 902.1,1092.8 898.3,1089 894.5,1084 888.2,1080.2 883.1,1075.1 880.6,1068.8 876.8,1063.8 874.3,1058.7 869.2,1056.2 865.4,1053.7 861.6,1058.7 857.9,1063.8 855.3,1070.1 851.5,1076.4 845.2,1080.2 837.6,1084 831.3,1089 823.8,1092.8 816.2,1095.3 809.9,1097.9 807.3,1104.2 802.3,1110.5 803.6,1116.8 798.5,1120.6 792.2,1123.1 787.1,1128.2 780.8,1130.7 773.2,1128.2 772,1123.1 775.8,1119.3 780.8,1114.3 787.1,1109.2 788.4,1102.9 783.3,1099.1 778.3,1095.3 770.7,1092.8 766.9,1097.9 764.4,1104.2 758.1,1108 749.3,1111.7 741.7,1114.3 735.4,1106.7 731.6,1096.6 730.3,1087.8 726.5,1080.2 720.2,1075.1 717.7,1066.3 716.4,1058.7 711.4,1051.1 707.6,1044.8 712.6,1041 713.9,1034.7 718.9,1029.7 725.3,1023.3 727.8,1015.8 735.4,1014.5 742.9,1010.7 746.7,1006.9 753,1009.5 759.4,1006.9 760.6,1015.8 768.2,1014.5 775.8,1012 783.3,1006.9 789.7,1000.6 792.2,996.8 793.4,989.3 797.2,982.9 804.8,977.9 801,975.4 790.9,974.1 778.3,975.4 770.7,972.8 773.2,965.3 772,958.9 766.9,952.6 772,945.1 778.3,938.8 787.1,937.5 785.9,927.4 785.9,917.3 787.1,907.2 789.7,897.1 798.5,897.1 797.2,892.1 794.7,884.5 799.8,876.9 807.3,873.1 814.9,869.3 818.7,861.7 826.3,859.2 832.6,854.2 841.4,855.4 849,854.2 852.8,847.9 855.3,841.5 859.1,837.8 861.6,840.3 864.2,847.9 865.4,856.7 869.2,864.3 874.3,870.6 879.3,875.6 889.4,873.1 898.3,871.8 899.5,865.5 903.3,858 909.6,854.2 917.2,855.4 923.5,859.2 931.1,863 937.4,861.7 938.7,851.6 936.1,841.5 929.8,835.2 923.5,830.2 927.3,823.9 934.9,820.1 942.5,816.3 952.6,813.8 948.8,808.7 946.3,801.1 948.8,791 950,780.9 948.8,770.8 945,762 942.5,753.1 950,746.8 957.6,739.3 962.7,730.4Z" fill="#4da51d" stroke="#4da51d" stroke-width="0.6" stroke-linejoin="round" /><path d="M792.2,996.8 794.7,1000.6 799.8,1006.9 804.8,1013.2 811.1,1015.8 818.7,1015.8 825,1010.7 833.9,1009.5 841.4,1005.7 849,1006.9 856.6,1012 864.2,1014.5 868,1020.8 861.6,1025.9 860.4,1032.2 864.2,1037.2 871.7,1038.5 876.8,1034.7 881.8,1029.7 885.6,1025.9 889.4,1024.6 893.2,1018.3 895.7,1010.7 902.1,1006.9 907.1,1000.6 907.1,994.3 905.8,986.7 902.1,984.2 897,982.9 891.9,977.9 885.6,972.8 876.8,971.6 871.7,975.4 865.4,977.9 859.1,979.1 854.1,974.1 851.5,972.8 852.8,966.6 851.5,957.7 849,950.1 851.5,942.6 856.6,945.1 864.2,942.6 874.3,943.8 884.4,938.8 888.2,945.1 894.5,942.6 902.1,945.1 909.6,947.6 914.7,952.7 915.9,960.2 917.2,967.8 914.7,975.4 909.6,980.4 905.8,985.5 909.6,989.3 917.2,990.6 926,989.3 932.4,985.5 938.7,980.4 938.7,972.9 936.1,965.3 937.4,957.7 932.4,952.7 926,947.6 922.3,941.3 919.7,933.7 918.5,926.1 922.3,918.6 924.8,911 932.4,912.3 942.5,909.7 952.6,907.2 962.7,904.7 972.8,900.9 979.1,904.7 981.6,912.3 985.4,917.3 990.4,921.1 995.5,923.6 1000.6,927.4 1008.1,929.9 1015.7,927.4 1015.2,926.1 1022.8,929.9 1027.8,936.3 1030.3,945.1 1031.6,950.1 1029.1,956.4 1022.8,961.5 1013.9,965.3 1006.4,964 997.5,965.3 993.7,970.3 995,977.9 992.5,985.5 995,993 993.7,1000.6 1001.3,1004.4 1010.1,1006.9 1019,1008.2 1025.3,1013.2 1029.1,1020.8 1025.3,1027.1 1021.5,1033.4 1019,1039.8 1012.7,1043.6 1005.1,1046.1 998.8,1044.8 992.5,1046.1 984.9,1043.6 978.6,1041 974.8,1046.1 968.5,1051.1 962.2,1052.4 954.6,1053.7 952.6,1056.2 946.3,1060 937.4,1061.2 929.8,1062.5 924.8,1066.3 923.5,1073.9 924.3,1082.7 921,1082.7 914.7,1086.5 908.4,1090.3 902.1,1092.8 898.3,1089 894.5,1084 888.2,1080.2 883.1,1075.1 880.6,1068.8 876.8,1063.8 874.3,1058.7 869.2,1056.2 865.4,1053.7 861.6,1058.7 857.9,1063.8 855.3,1070.1 851.5,1076.4 845.2,1080.2 837.6,1084 831.3,1089 823.8,1092.8 816.2,1095.3 809.9,1097.9 807.3,1104.2 802.3,1110.5 803.6,1116.8 798.5,1120.6 792.2,1123.1 787.1,1128.2 780.8,1130.7 773.2,1128.2 772,1123.1 775.8,1119.3 780.8,1114.3 787.1,1109.2 788.4,1102.9 783.3,1099.1 778.3,1095.3 770.7,1092.8 766.9,1097.9 764.4,1104.2 758.1,1108 749.3,1111.7 741.7,1114.3 735.4,1106.7 731.6,1096.6 730.3,1087.8 726.5,1080.2 720.2,1075.1 717.7,1066.3 716.4,1058.7 711.4,1051.1 707.6,1044.8 712.6,1041 713.9,1034.7 718.9,1029.7 725.3,1023.3 727.8,1015.8 735.4,1014.5 742.9,1010.7 746.7,1006.9 753,1009.5 759.4,1006.9 760.6,1015.8 768.2,1014.5 775.8,1012 783.3,1006.9 789.7,1000.6 792.2,996.8Z" fill="#1f7a1c" stroke="#1f7a1c" stroke-width="0.6" stroke-linejoin="round" /><path d="M961,968.4 964.2,958.9 970.5,954.2 980,955.8 989.4,954.2 997.3,958.9 998.9,968.4 994.2,977.9 991,987.3 980,992.1 970.5,992.9 962.6,990.5 961,981 961,968.4" fill="none" stroke="#4a9a48" stroke-width="0.8" stroke-linejoin="round" /><path d="M926.3,932.1 935.8,935.2 948.4,933.7 961,935.2 970.5,932.1 983.1,933.7 991,932.1" fill="none" stroke="#4a9a48" stroke-width="0.8" stroke-linejoin="round" /><path d="M938.9,955.8 948.4,962.1 961,968.4" fill="none" stroke="#4a9a48" stroke-width="0.8" stroke-linejoin="round" /><path d="M951.6,990.5 957.9,993.7 970.5,992.9 968.9,1001.5 967.3,1011" fill="none" stroke="#4a9a48" stroke-width="0.8" stroke-linejoin="round" /><path d="M1053.1,869.3 1044.2,870.6 1035.4,873.1 1027.8,871.8 1020.2,870.6 1012.7,868.1 1006.4,866.8 1000,870.6 1002.6,878.2 1006.4,885.7 1005.1,892.1 1010.1,899.6 1012.7,907.2 1020.2,912.3 1030.3,914.8 1040.4,918.6 1044.2,926.1 1050.6,931.2 1059.4,933.7 1065.7,932.5 1070.8,928.7 1075.8,927.4 1083.4,931.2 1093.5,935 1103.6,937.5 1113.7,940 1121.3,938.8 1123.8,935 1120,928.7 1116.2,922.4 1112.4,916 1106.1,911 1098.5,907.2 1091,902.2 1084.6,895.8 1082.1,888.3 1078.3,881.9 1070.8,878.2 1060.7,873.1Z" fill="#1f7a1c" stroke="#1f7a1c" stroke-width="0.6" stroke-linejoin="round" /><path d="M1024,1071.3 1031.6,1068.8 1040.4,1065 1048,1058.7 1055.6,1057.4 1061.9,1061.2 1065.7,1068.8 1069.5,1073.9 1072,1081.4 1074.5,1089 1078.3,1091.5 1075.8,1097.9 1077.1,1106.7 1080.9,1113 1088.4,1116.8 1091,1123.1 1089.7,1128.2 1083.4,1130.7 1075.8,1131.9 1069.5,1135.7 1064.4,1139.5 1059.4,1142.1 1058.1,1149.6 1056.9,1157.2 1054.3,1163.5 1048,1166 1041.7,1168.6 1034.1,1172.4 1030.3,1168.6 1026.6,1167.3 1022.8,1173.6 1017.7,1178.7 1010.1,1179.9 1002.6,1181.2 997.5,1187.5 992.5,1193.8 987.4,1198.9 981.1,1201.4 976,1200.1 973.5,1193.8 969.7,1188.8 964.7,1183.7 962.2,1176.1 963.4,1168.6 959.6,1162.3 955.8,1154.7 953.3,1148.4 957.1,1142.1 960.9,1135.7 969.7,1134.5 977.3,1131.9 984.9,1125.6 988.7,1116.8 992.5,1111.7 1001.3,1109.2 1005.1,1101.6 1010.1,1094.1 1016.5,1089 1022.8,1085.2 1026.6,1078.9Z" fill="#1f7a1c" stroke="#1f7a1c" stroke-width="0.6" stroke-linejoin="round" /><path d="M789.7,897.1 798.5,897.1 808.6,902.2 812.4,911 817.4,918.6 826.3,916 836.4,917.3 844,921.1 845.2,929.9 849,936.3 851.5,942.6 849,950.1 851.5,957.7 852.8,966.6 851.5,972.8 845.2,975.4 837.6,976.6 833.9,982.9 828.8,993 826.3,1001.9 825,1010.7 818.7,1015.8 811.1,1015.8 804.8,1013.2 799.8,1006.9 794.7,1000.6 792.2,996.8 793.4,989.3 797.2,982.9 804.8,977.9 801,975.4 790.9,974.1 778.3,975.4 770.7,972.8 773.2,965.3 772,958.9 766.9,952.6 772,945.1 778.3,938.8 787.1,937.5 785.9,927.4 785.9,917.3 787.1,907.2Z" fill="#a9d32b" stroke="#a9d32b" stroke-width="0.6" stroke-linejoin="round" /><path d="M891.9,885.7 902.1,884.5 910.9,885.7 917.2,887 919.7,894.6 921,904.7 924.8,911 922.3,918.6 918.5,926.1 919.7,933.7 922.3,941.3 926,947.6 932.4,952.7 937.4,957.7 936.1,965.3 938.7,972.9 938.7,980.4 932.4,985.5 926,989.3 917.2,990.6 909.6,989.3 905.8,985.5 909.6,980.4 914.7,975.4 917.2,967.8 915.9,960.2 914.7,952.7 909.6,947.6 902.1,945.1 894.5,942.6 888.2,945.1 884.4,938.8 885.6,929.9 888.2,921.1 894.5,916 898.3,908.5 897,900.9 894.5,893.3Z" fill="#a9d32b" stroke="#a9d32b" stroke-width="0.6" stroke-linejoin="round" /><path d="M1070.8,928.7 1075.8,927.4 1083.4,931.2 1093.5,935 1103.6,937.5 1113.7,940 1121.3,938.8 1126.3,942.6 1127.6,950.1 1123.8,955.2 1121.3,962.8 1120,966.6 1123.8,971.6 1121.3,975.4 1118.7,979.2 1123.8,983 1127.6,988 1130.1,994.3 1132.6,1001.9 1132.6,1001.9 1127.6,1003.1 1118.7,1004.4 1108.6,1006.9 1098.5,1010.7 1091,1015.8 1085.9,1019.6 1080.9,1015.8 1073.3,1012 1065.7,1008.2 1067,999.4 1063.2,991.8 1058.1,988 1065.7,981.7 1069.5,975.4 1070.8,966.5 1073.3,960.2 1079.6,956.4 1085.9,951.4 1078.3,946.4 1070.8,940 1065.7,933.7Z" fill="#a9d32b" stroke="#8fb02a" stroke-width="0.6" stroke-linejoin="round" /><path d="M1121.3,965.3 1128.8,964.8 1137.7,965.3 1137.7,968.3 1128.8,967.8 1121.3,968.3Z" fill="#a9d32b" stroke="#8a9a30" stroke-width="0.6" stroke-linejoin="round" /><path d="M1123.8,971.6 1132.6,972.3 1133.9,975.4 1130.1,977.9 1125.1,974.1Z" fill="#a9d32b" stroke="#8a9a30" stroke-width="0.6" stroke-linejoin="round" /><path d="M1142.7,1046.1 1149.1,1043 1154.1,1044.8 1156.6,1048.6 1152.8,1051.1 1146.5,1050.6Z" fill="#b9cc52" stroke="#8f9a3a" stroke-width="0.6" stroke-linejoin="round" /><path d="M1157.9,1047.3 1166.7,1046.6 1167.2,1049.9 1160.4,1051.1Z" fill="#b9cc52" stroke="#8f9a3a" stroke-width="0.6" stroke-linejoin="round" /><path d="M1156.6,1031.4 1162.9,1030.4 1169.3,1033.4 1164.2,1036 1157.1,1035.5Z" fill="#b9cc52" stroke="#8f9a3a" stroke-width="0.6" stroke-linejoin="round" /><path d="M1133.9,1044.8 1136.9,1044.1 1137.7,1047.3 1134.4,1048.1Z" fill="#b9cc52" stroke="#8f9a3a" stroke-width="0.6" stroke-linejoin="round" /><path d="M1142.7,1056.7 1149.1,1054.9 1152.8,1057.4 1149.1,1060.7 1144,1060Z" fill="#b9cc52" stroke="#8f9a3a" stroke-width="0.6" stroke-linejoin="round" /><path d="M1152.8,1063.8 1159.2,1062.5 1161.7,1066.3 1156.6,1068.8Z" fill="#b9cc52" stroke="#8f9a3a" stroke-width="0.6" stroke-linejoin="round" /><path d="M1162.9,1072.6 1169.3,1071.8 1171.3,1076.4 1166.7,1081.4 1162.9,1078.9Z" fill="#b9cc52" stroke="#8f9a3a" stroke-width="0.6" stroke-linejoin="round" /><path d="M1157.9,1080.2 1162.9,1081.4 1161.7,1087.8 1157.9,1089Z" fill="#b9cc52" stroke="#8f9a3a" stroke-width="0.6" stroke-linejoin="round" /><path d="M1146.5,1089 1152.8,1087.8 1157.9,1091.5 1159.2,1095.3 1152.8,1097.1 1147.8,1094.1Z" fill="#b9cc52" stroke="#8f9a3a" stroke-width="0.6" stroke-linejoin="round" /><path d="M1165.5,1066.3 1170.5,1065.8 1171.3,1069.3 1166.2,1070.1Z" fill="#b9cc52" stroke="#8f9a3a" stroke-width="0.6" stroke-linejoin="round" /><path d="M1136.4,1019.6 1144,1020.8 1141.5,1023.9 1137.7,1022.8Z" fill="#a9a9a9" stroke="none" stroke-width="1" stroke-linejoin="round" /><path d="M1164.2,1009.5 1170.5,1010.7 1174.3,1014.5 1169.3,1015.8 1164.7,1013.2Z" fill="#a9a9a9" stroke="none" stroke-width="1" stroke-linejoin="round" /><path d="M1186.9,1006.9 1191.5,1007.7 1190.7,1010.2 1187.4,1009.7Z" fill="#a9a9a9" stroke="none" stroke-width="1" stroke-linejoin="round" /><path d="M1178.1,998.6 1181.4,998.1 1180.9,1000.6Z" fill="#a9a9a9" stroke="none" stroke-width="1" stroke-linejoin="round" /><path d="M1154.1,1027.1 1157.9,1027.9 1156.6,1030.4Z" fill="#a9a9a9" stroke="none" stroke-width="1" stroke-linejoin="round" /><path d="M1156.6,1113 1160.4,1114.3 1159.2,1117.3Z" fill="#a9a9a9" stroke="none" stroke-width="1" stroke-linejoin="round" /><path d="M1147.8,1134.5 1151.1,1135 1150.3,1138.3Z" fill="#a9a9a9" stroke="none" stroke-width="1" stroke-linejoin="round" /><path d="M1138.9,1168.6 1142,1169.8 1141,1173.6 1138.4,1172.4Z" fill="#a9a9a9" stroke="none" stroke-width="1" stroke-linejoin="round" /><path d="M1132.6,1174.9 1135.9,1175.6 1135.2,1177.9Z" fill="#a9a9a9" stroke="none" stroke-width="1" stroke-linejoin="round" /><path d="M1142.7,1190 1146.5,1191.3 1146,1195.6 1143,1194.6Z" fill="#a9a9a9" stroke="none" stroke-width="1" stroke-linejoin="round" /><path d="M1119.2,1225.4 1121.8,1225.9 1121.3,1227.9Z" fill="#a9a9a9" stroke="none" stroke-width="1" stroke-linejoin="round" /></g>
<g fill="none" stroke="#000" stroke-width="1" stroke-dasharray="6.4 3.2"><line x1="705.1" y1="664.0" x2="732.5" y2="1258.8"/><line x1="770.3" y1="664.0" x2="803.6" y2="1258.8"/><line x1="835.6" y1="664.0" x2="874.6" y2="1258.8"/><line x1="900.8" y1="664.0" x2="945.7" y2="1258.8"/><line x1="966.1" y1="664.0" x2="1016.7" y2="1258.8"/><line x1="1031.3" y1="664.0" x2="1087.8" y2="1258.8"/><line x1="1096.6" y1="664.0" x2="1158.8" y2="1258.8"/><line x1="1161.8" y1="664.0" x2="1229.3" y2="1253.8"/><path d="M667,707.8 697,706.2 727,704.4 757,702.5 787,700.5 817,698.4 847,696.1 877,693.7 907,691.3 937,688.7 967,685.9 997,683.1 1027,680.1 1057,677.1 1087,673.9 1117,670.6"/><path d="M667,786 697,784.5 727,782.8 757,781 787,779.1 817,777.1 847,775 877,772.7 907,770.4 937,767.9 967,765.3 997,762.7 1027,759.9 1057,757 1087,753.9 1117,750.8 1147,747.6 1177,744.2 1207,740.7 1236,737.3"/><path d="M667,865.7 697,864.2 727,862.5 757,860.8 787,859 817,857 847,855 877,852.8 907,850.6 937,848.2 967,845.7 997,843.1 1027,840.4 1057,837.6 1087,834.7 1117,831.7 1147,828.5 1177,825.3 1207,822 1236,818.6"/><path d="M667,944.6 697,943.2 727,941.6 757,939.9 787,938.2 817,936.3 847,934.3 877,932.3 907,930.1 937,927.8 967,925.4 997,922.9 1027,920.4 1057,917.7 1087,914.9 1117,912 1147,909 1177,905.9 1207,902.6 1236,899.4"/><path d="M667,1023 697,1021.6 727,1020.2 757,1018.6 787,1016.9 817,1015.2 847,1013.3 877,1011.4 907,1009.3 937,1007.2 967,1004.9 997,1002.6 1027,1000.1 1057,997.6 1087,994.9 1117,992.2 1147,989.4 1177,986.4 1207,983.4 1236,980.4"/><path d="M667,1103 697,1101.6 727,1100.2 757,1098.7 787,1097.1 817,1095.4 847,1093.6 877,1091.7 907,1089.8 937,1087.7 967,1085.5 997,1083.3 1027,1080.9 1057,1078.5 1087,1075.9 1117,1073.3 1147,1070.6 1177,1067.7 1207,1064.8 1236,1061.9"/><path d="M667,1181.9 697,1180.6 727,1179.3 757,1177.8 787,1176.2 817,1174.6 847,1172.9 877,1171 907,1169.1 937,1167.1 967,1165 997,1162.8 1027,1160.5 1057,1158.1 1087,1155.6 1117,1153.1 1147,1150.4 1177,1147.7 1207,1144.8 1236,1142"/><path d="M817,1253.9 847,1252.2 877,1250.5 907,1248.6 937,1246.7 967,1244.7 997,1242.6 1027,1240.4 1057,1238.2 1087,1235.8 1117,1233.4 1147,1230.9 1177,1228.2 1207,1225.5 1236,1222.8"/></g>
<rect x="673.7" y="669.0" width="556.3999999999999" height="584.8" fill="none" stroke="#1a1a1a" stroke-width="1.3"/>
<line x1="673.1" y1="1253.8" x2="1230.6999999999998" y2="1253.8" stroke="#6a6a6a" stroke-width="1.7"/>
<text class="deg" x="705.3" y="662" text-anchor="middle">116°</text>
<text class="deg" x="770.6" y="662" text-anchor="middle">117°</text>
<text class="deg" x="835.9" y="662" text-anchor="middle">118°</text>
<text class="deg" x="901.2" y="662" text-anchor="middle">119°</text>
<text class="deg" x="966.5" y="662" text-anchor="middle">120°</text>
<text class="deg" x="1031.8" y="662" text-anchor="middle">121°</text>
<text class="deg" x="1097.1" y="662" text-anchor="middle">122°</text>
<text class="deg" x="1162.4" y="662" text-anchor="middle">123°</text>
<text class="deg" transform="translate(1245.3,738) rotate(-90)" text-anchor="middle">34°</text>
<text class="deg" transform="translate(1245.3,819.3) rotate(-90)" text-anchor="middle">33°</text>
<text class="deg" transform="translate(1245.3,900.1) rotate(-90)" text-anchor="middle">32°</text>
<text class="deg" transform="translate(1245.3,981) rotate(-90)" text-anchor="middle">31°</text>
<text class="deg" transform="translate(1245.3,1062.5) rotate(-90)" text-anchor="middle">30°</text>
<text class="deg" transform="translate(1245.3,1142.6) rotate(-90)" text-anchor="middle">29°</text>
<text class="deg" transform="translate(1245.3,1223.4) rotate(-90)" text-anchor="middle">28°</text>
<text class="deg" transform="translate(1148.3,654.3) rotate(-90)" fill-opacity="0.7" text-anchor="middle">35°</text>
<text class="lab" x="983.3" y="804.9" text-anchor="middle">Yancheng</text>
<text class="lab" x="978.7" y="852.1" text-anchor="middle">Taizhou(JS)</text>
<text class="lab" x="950.8" y="876.0" text-anchor="middle">Yangzhou</text>
<text class="lab" x="852.9" y="897.8" text-anchor="middle">Chuzhou</text>
<text class="lab" x="1049.8" y="901.4" text-anchor="middle">Nantong</text>
<text class="lab" x="956.9" y="928.3" text-anchor="middle">Zhenjiang</text>
<text class="lab" x="879.2" y="942.0" text-anchor="middle">Nanjing</text>
<text class="lab" x="963.0" y="950.6" text-anchor="middle">Changzhou</text>
<text class="lab" x="812.2" y="954.6" text-anchor="middle">Hefei</text>
<text class="lab" x="877.2" y="966.3" text-anchor="middle">Maanshan</text>
<text class="lab" x="987.3" y="981.0" text-anchor="middle">Wuxi</text>
<text class="lab" x="1040.6" y="979.0" text-anchor="middle">Suzhou</text>
<text class="lab" x="876.7" y="1002.9" text-anchor="middle">Wuhu</text>
<text class="lab" x="1096.4" y="1001.3" text-anchor="middle">Shanghai</text>
<text class="lab" x="826.0" y="1028.2" text-anchor="middle">Tongling</text>
<text class="lab" x="990.9" y="1029.8" text-anchor="middle">Huzhou</text>
<text class="lab" x="1053.3" y="1033.8" text-anchor="middle">Jiaxing</text>
<text class="lab" x="756.4" y="1054.6" text-anchor="middle">Anqing</text>
<text class="lab" x="913.8" y="1052.1" text-anchor="middle">Xuancheng</text>
<text class="lab" x="818.8" y="1079.0" text-anchor="middle">Chizhou</text>
<text class="lab" x="1152.3" y="1070.4" text-anchor="middle">Zhoushan</text>
<text class="lab" x="968.6" y="1095.2" text-anchor="middle">Hangzhou</text>
<text class="lab" x="1099.5" y="1090.7" text-anchor="middle">Ningbo</text>
<text class="lab" x="1044.2" y="1117.0" text-anchor="middle">Shaoxing</text>
<text class="lab" x="999.0" y="1153.6" text-anchor="middle">Jinhua</text>
<text class="lab" x="1072.1" y="1188.1" text-anchor="middle">Taizhou(ZJ)</text>
<path d="M691.5,1225.2 V1234.2 H876.3 V1225.2 M714.6,1234.2 v-7 M737.7,1234.2 v-7 M760.8,1234.2 v-7 M783.9,1234.2 v-9 M807.0,1234.2 v-7 M830.1,1234.2 v-7 M853.2,1234.2 v-7" fill="none" stroke="#222" stroke-width="1.1"/>
<text class="san" x="691.5" y="1219.1" font-size="17.5" fill="#111" text-anchor="middle">0</text>
<text class="san" x="737.9" y="1219.1" font-size="17.5" fill="#111" text-anchor="middle">65</text>
<text class="san" x="784.6" y="1219.1" font-size="17.5" fill="#111" text-anchor="middle">130</text>
<text class="san" x="861.4" y="1219.1" font-size="17.5" fill="#111">260 KM</text>
<!-- 40_prd.py -->
<clipPath id="cprd"><rect x="43.7" y="780.3" width="598.8" height="473.5"/></clipPath>
<rect x="43.7" y="780.3" width="598.8" height="473.5" fill="#e4e4e4"/>
<g clip-path="url(#cprd)"><path d="M40,1246.9 43.8,1246.9 47.6,1249.4 52.6,1246.9 55.2,1241.8 50.1,1243.1 45.1,1240.6 47.6,1236.8 55.2,1238 62.7,1236.8 70.3,1234.2 80.4,1235.5 86.7,1233 95.6,1230.4 103.1,1229.2 106.9,1222.9 113.2,1219.1 120.8,1221.6 127.1,1224.1 124.6,1219.1 128.4,1214 136,1207.7 143.6,1205.2 151.1,1200.1 158.7,1195.1 166.3,1191.3 172.6,1192.6 178.9,1197.6 185.2,1203.9 191.5,1203.9 201.6,1167.3 242.1,1142.1 292.6,1142.1 317.8,1091.5 364.1,1048.6 405.8,1036 506.8,1041 557.3,1036 562.4,1048.6 564.9,1044.8 572.5,1037.2 582.6,1035.5 587.6,1034.7 587.6,1031.4 592.7,1031.4 593.9,1038 601.5,1038 607.8,1039 610.3,1044.8 615.4,1049.1 623,1050.6 633.1,1052.4 641.2,1054.9 645.7,1054.9 645.7,1258.2 37,1258.2Z" fill="#fff" stroke="#a8a8a8" stroke-width="0.8" stroke-linejoin="round" /><path d="M644.4,1031.4 639.4,1034.7 636.9,1039.8 641.2,1039 644.4,1039.8Z" fill="#fff" stroke="#a8a8a8" stroke-width="0.8" stroke-linejoin="round" /><path d="M148.6,780 148.6,792.6 152.4,797.7 156.2,805.3 156.2,812.8 151.1,820.4 146.1,825.5 141,830.5" fill="none" stroke="#a8a8a8" stroke-width="0.8" stroke-linejoin="round" /><path d="M62.7,968.2 64,977 65.3,987.1 67.8,997.2 71.6,1003.5 70.3,1009.8 65.3,1014.9 62.7,1022.5 57.7,1030 52.6,1036.4 46.3,1043.9 42.5,1049" fill="none" stroke="#a8a8a8" stroke-width="0.8" stroke-linejoin="round" /><path d="M471.4,780 475.2,783.8 481.5,785.1 486.6,781.3" fill="none" stroke="#a8a8a8" stroke-width="0.8" stroke-linejoin="round" /><path d="M282.5,944.2 286.3,942.9 295.1,941.6 303.9,939.1 310.2,935.3 314,929 317.8,922.7 324.1,917.6 330.4,912.6 335.5,906.3 341.8,903.8 350.7,906.3 351.5,906.3 359,908.8 365.4,911.3 370.4,906.3 367.9,900 370.4,892.4 378,888.6 383,883.6 389.4,882.3 396.9,877.2 405.8,873.4 415.9,872.2 426,872.2 443.7,931.5 471.4,997.2 471.4,1035.1 456.3,1032.7 461.3,1036.5 467.6,1038 472.7,1041.5 479,1042.8 481.5,1047.8 486.6,1052.9 491.6,1056.7 496.7,1054.9 500.5,1057.4 506.8,1060.7 506.8,1064.3 501.7,1066.3 496.7,1068.3 494.2,1071.3 498,1072.6 504.3,1073.9 509.3,1077.6 510.6,1082.7 505.5,1085.2 499.2,1087.8 494.2,1086.5 491.6,1081.4 489.6,1075.1 485.3,1071.3 479,1068.8 471.4,1070.1 466.4,1072.6 461.3,1075.1 456.3,1076.4 446.2,1075.1 436.1,1077.6 426,1080.2 418.4,1082.7 414.6,1085.2 409.6,1089 407,1086.5 404.5,1080.2 400.7,1073.9 396.9,1066.3 394.4,1058.7 391.9,1051.1 385.6,1049.9 379.3,1047.3 370.4,1047.3 364.1,1048.6 362.8,1056.2 367.9,1063.8 372.9,1071.3 376.7,1078.9 378,1086.5 374.2,1091.5 370.4,1097.9 375.5,1094.1 379.3,1096.6 378,1102.9 374.2,1108 370.4,1114.3 369.1,1121.8 367.9,1128.2 365.4,1134.5 364.1,1142.1 360,1139.5 355.7,1141.3 350.7,1145.8 344.3,1149.6 341.8,1154.7 335.5,1159.7 330.4,1157.2 325.4,1153.4 324.1,1159.7 326.7,1166 329.2,1172.4 326.7,1177.4 321.6,1173.6 316.6,1167.3 312.8,1161 309,1154.7 305.2,1147.1 303.9,1139.5 303.9,1130.7 301.4,1126.9 307.7,1120.6 311.5,1114.3 314,1106.7 311.5,1101.6 317.8,1099.1 321.6,1101.6 320.3,1091.5 316.6,1085.2 311.5,1077.6 309,1068.8 310.2,1060 310.2,1060.3 314,1056.6 320.3,1051.5 327.9,1047.7 334.2,1043.9 338,1040.1 333,1035.1 327.9,1028.8 324.1,1019.9 321.6,1011.1 316.6,1006 311.5,1002.3 314,997.2 315.3,989.6 314,982.1 311.5,975.7 306.5,969.4 301.4,966.9 295.1,974.5 293.8,969.4 288.8,961.8 283.7,954.3 279.9,946.7Z" fill="#fba414" stroke="#a87020" stroke-width="0.7" stroke-linejoin="round" /><path d="M366.6,1052.4 372.9,1053.7 378,1058.7 381.8,1066.3 383,1073.9 379.3,1072.6 375.5,1065 370.4,1058.7Z" fill="#ead9b8" stroke="#a87020" stroke-width="0.7" stroke-linejoin="round" /><path d="M403.2,993.4 393.1,992.2 383,989.6 374.2,992.2 365.4,994.7 359,999.7 360.3,1008.6 364.1,1017.4 365.4,1026.3 367.9,1033.8 372.9,1040.1 380.5,1045.2 389.4,1047.7 395.7,1043.9 400.7,1037.6 405.8,1033.8 412.1,1035.1 417.1,1038.9 423.4,1042.7 429.8,1043.9 436.1,1046.5 441.1,1050.2 448.7,1045.2 453.8,1040.1 456.3,1032.6" fill="none" stroke="#a87020" stroke-width="0.7" stroke-linejoin="round" /><path d="M395.7,1043.9 394.4,1051.5 396.9,1057.8" fill="none" stroke="#a87020" stroke-width="0.7" stroke-linejoin="round" /><path d="M330,1048.6 337.6,1052.4 345.2,1057.4 351.5,1063.8 356.5,1071.3 360.3,1078.9 364.1,1086.5 367.9,1091.5" fill="none" stroke="#a87020" stroke-width="0.7" stroke-linejoin="round" /><path d="M321.6,1101.6 327.9,1106.7 333,1114.3 340.6,1116.8 348.1,1114.3 354.4,1111.7" fill="none" stroke="#a87020" stroke-width="0.7" stroke-linejoin="round" /><path d="M187.8,807.8 194.1,812.8 200.4,817.9 206.7,824.2 209.2,831.8 206.7,840.6 211.7,846.9 215.5,853.2 216.8,860.8 220.6,867.1 228.2,869.7 235.7,872.2 242.1,877.2 240.8,884.8 244.6,892.4 247.1,900 249.6,906.3 247.1,911.3 253.4,916.4 257.2,921.4 259.7,929 263.5,935.3 262.3,941.6 258.5,948 257.2,954.3 262.3,956.8 267.3,960.6 266,968.2 262.3,974.5 257.2,979.5 255.9,985.8 259.7,993.4 262.3,1001 263.5,1008.6 259.7,1013.6 253.4,1016.1 247.1,1021.2 242.1,1026.3 234.5,1030 228.2,1033.8 220.6,1037.6 214.3,1040.1 206.7,1042.7 197.9,1045.2 194.1,1040.1 192.8,1033.8 189,1028.8 185.2,1023.7 189,1016.1 189,1008.6 189,1002.3 192.8,997.2 187.8,995.9 181.4,999.7 172.6,1002.3 163.8,1002.3 154.9,1001.8 148.6,998.5 143.6,994.7 136,994.2 127.1,993.4 118.3,992.2 109.5,989.6 101.9,987.1 94.3,983.3 88,980.8 85.5,975.7 81.7,970.7 76.6,970.7 70.3,968.2 62.7,964.4 64,956.8 67.8,949.2 72.8,941.6 76.6,934.1 79.1,926.5 80.4,920.2 88,918.9 96.8,917.6 99.4,910.1 96.8,903.8 99.4,896.2 104.4,889.9 113.2,891.1 122.1,891.1 124.6,883.6 127.1,877.2 132.2,870.9 137.2,864.6 134.7,857 132.2,849.5 130.9,840.6 132.2,831.8 139.8,830.5 146.1,834.3 151.1,836.8 154.9,829.3 158.7,826.7 163.8,833 167.5,836.8 173.9,833 180.2,829.3 184,820.4 186.5,812.8Z" fill="#6cc40c" stroke="#448512" stroke-width="0.7" stroke-linejoin="round" /><path d="M263.5,929 268.6,927.8 273.6,931.5 272.4,936.6 276.1,941.6 279.9,946.7 283.7,954.3 288.8,961.8 293.8,969.4 295.1,974.5 301.4,966.9 306.5,969.4 311.5,975.7 314,982.1 315.3,989.6 314,997.2 311.5,1002.3 316.6,1006 321.6,1011.1 324.1,1019.9 327.9,1028.8 333,1035.1 338,1040.1 334.2,1043.9 327.9,1047.7 320.3,1051.5 314,1056.6 310.2,1060.3 310.2,1060 309,1068.8 311.5,1077.6 316.6,1085.2 320.3,1091.5 321.6,1101.6 317.8,1099.1 311.5,1101.6 314,1106.7 311.5,1114.3 307.7,1120.6 301.4,1126.9 303.9,1130.7 300.1,1137 293.8,1142.1 295.1,1149.6 292.6,1157.2 293.8,1164.8 290,1171.1 286.3,1177.4 279.9,1181.2 273.6,1178.7 269.8,1172.4 264.8,1168.6 257.2,1172.4 252.2,1177.4 247.1,1183.7 242.1,1190 235.7,1195.1 229.4,1195.1 221.8,1191.3 214.3,1186.3 211.7,1178.7 214.3,1172.4 220.6,1169.8 218.1,1168.6 211.7,1169.8 208,1173.6 208,1181.2 209.2,1190 206.7,1197.6 199.1,1201.4 191.5,1203.9 192.8,1197.6 197.9,1190 201.6,1182.5 202.9,1174.9 201.6,1167.3 204.2,1161 205.4,1153.4 201.6,1158.5 196.6,1162.3 189,1159.7 181.4,1154.7 176.4,1149.6 168.8,1144.6 161.2,1140.8 154.9,1142.1 156.2,1135.7 154.9,1128.2 151.1,1121.8 157.4,1119.3 158.7,1111.7 166.3,1108 173.9,1102.9 181.4,1099.1 185.2,1091.5 190.3,1085.2 192.8,1078.9 199.1,1077.6 201.6,1070.1 206.7,1063.8 204.2,1054.9 204.2,1047.3 197.9,1045.1 206.7,1042.7 214.3,1040.1 220.6,1037.6 228.2,1033.8 234.5,1030 242.1,1026.3 247.1,1021.2 253.4,1016.1 259.7,1013.6 263.5,1008.6 262.3,1001 259.7,993.4 255.9,985.8 257.2,979.5 262.3,974.5 266,968.2 267.3,960.6 262.3,956.8 257.2,954.3 258.5,948 262.3,941.6 263.5,935.3Z" fill="#ffff1a" stroke="#8f8a18" stroke-width="0.7" stroke-linejoin="round" /><path d="M221.8,1062.9 228.2,1056.6 237,1054 244.6,1051.5 250.9,1055.3 257.2,1051.5 262.3,1042.7 268.6,1035.1 274.9,1033.8 281.2,1037.6 286.3,1041.4 293.8,1042.7 297.6,1049 301.4,1055.3 307.7,1059.1" fill="none" stroke="#8f8a18" stroke-width="0.7" stroke-linejoin="round" /><path d="M210.5,1057.8 214.3,1055.3 216.8,1060.3 218.1,1067.9 214.3,1070.4 210.5,1065.4Z" fill="#e8e8f0" stroke="#8f8a18" stroke-width="0.7" stroke-linejoin="round" /><path d="M204.2,1055.3 208,1060.3 211.7,1070.4 216.8,1071.7 220.6,1065.4 221.8,1062.9 219.8,1055.3 218.1,1052.8" fill="none" stroke="#8f8a18" stroke-width="0.6" stroke-linejoin="round" /><path d="M293.8,1142.1 300.1,1137 303.9,1130.7 303.9,1139.5 305.2,1147.1 302.7,1152.2 297.6,1159.7 293.8,1164.8 292.6,1157.2 295.1,1149.6Z" fill="#d8d8e0" stroke="#a8a8a8" stroke-width="0.6" stroke-linejoin="round" /><path d="M325.4,1153.4 330.4,1157.2 335.5,1159.7 338,1163.5 334.2,1168.6 330.4,1173.6 329.2,1172.4 326.7,1166 324.1,1159.7Z" fill="#d8d8e0" stroke="#a8a8a8" stroke-width="0.6" stroke-linejoin="round" /><path d="M235.7,1195.1 242.1,1190 247.1,1183.7 252.2,1177.4 257.2,1172.4 264.8,1168.6 268.6,1171.1 262.3,1173.6 257.2,1178.7 252.2,1183.7 247.1,1190 242.1,1195.1 237,1197.6Z" fill="#d8d8e0" stroke="#a8a8a8" stroke-width="0.6" stroke-linejoin="round" /><path d="M257.2,1197.6 264.8,1193.8 271.1,1195.1 267.3,1201.4 263.5,1207.7 259.7,1215.3 257.2,1222.9 253.4,1220.3 254.7,1212.8 255.9,1205.2Z" fill="#ffff1a" stroke="#8f8a18" stroke-width="0.7" stroke-linejoin="round" /><path d="M234.5,1205.2 242.1,1202.7 239.5,1209 235.7,1214 231.9,1217.8 228.2,1215.3 230.7,1210.2Z" fill="#ffff1a" stroke="#8f8a18" stroke-width="0.7" stroke-linejoin="round" /><path d="M290,1177.4 295.1,1178.7 293.8,1181.2 290.5,1180.4Z" fill="#ffff1a" stroke="#8f8a18" stroke-width="0.6" stroke-linejoin="round" /><path d="M268.6,1216.6 273.6,1217.3 272.9,1219.3 269.1,1218.8Z" fill="#ffff1a" stroke="#8f8a18" stroke-width="0.6" stroke-linejoin="round" /><path d="M426,872.2 433.6,870.9 441.1,868.4 448.7,870.9 455,868.4 456.3,874.7 463.9,876 467.6,881 466.4,888.6 470.2,896.2 476.5,901.2 481.5,905 489.1,903.8 494.2,908.8 498,916.4 504.3,922.7 510.6,925.2 511.8,930.3 516.9,934.1 515.6,940.4 510.6,946.7 515.6,948 520.7,953 525.7,958.1 529.5,964.4 530.8,971.9 534.6,978.3 538.4,982.1 540.9,975.7 544.7,968.2 547.2,960.6 551,955.5 554.8,959.3 558.6,961.8 564.9,958.1 571.2,954.3 578.8,951.7 587.6,949.2 595.2,948 600.2,953 605.3,958.1 611.6,961.8 616.7,968.2 610.3,973.2 605.3,979.5 599,982.1 595.2,988.4 593.9,994.7 588.9,998.5 582.6,1002.3 576.3,1004.8 568.7,1006 562.4,1011.1 556,1016.1 551,1022.5 553.5,1028.8 558.6,1035.1 562.4,1041.4 563.6,1047.7 558.6,1052.8 554.8,1057.8 551,1064.1 548.5,1070.4 543.4,1067.9 535.8,1066.7 529.5,1065.4 525.7,1060.3 525.7,1052.8 528.3,1045.2 533.3,1041.4 537.1,1036.4 532.1,1032.6 528.3,1038.9 521.9,1041.4 514.4,1043.9 508.1,1047.7 501.7,1051.5 496.7,1055.3 491.6,1056.6 486.6,1052.8 481.5,1047.7 479,1042.7 472.7,1041.4 467.6,1037.6 461.3,1036.4 456.3,1032.6 455,1025 453.8,1018.7 448.7,1013.6 443.7,1008.6 441.1,1002.3 436.1,998.5 431,994.7 426,997.2 418.4,994.7 410.8,993.4 403.2,993.4 402,989.6 405.8,982.1 408.3,975.7 407,968.2 408.3,960.6 414.6,961.8 420.9,964.4 419.7,956.8 418.4,949.2 414.6,941.6 410.8,935.3 405.8,929 400.7,921.4 396.9,916.4 400.7,911.3 407,907.5 413.3,902.5 420.9,897.4 427.2,894.9 424.7,888.6 427.2,881Z" fill="#ffff1a" stroke="#8f8a18" stroke-width="0.7" stroke-linejoin="round" /><path d="M544.7,1043.9 551,1042.7 556,1046.5 553.5,1050.2 547.2,1048.2Z" fill="#fff" stroke="#8f8a18" stroke-width="0.6" stroke-linejoin="round" /><path d="M418.1,1081.7 425.7,1080.4 434.5,1077.9 442.1,1076 450.9,1074.7 458.5,1075.4 462.3,1077.9 466.1,1081.7 468.6,1085.5 471.1,1084.2 473.6,1086.7 476.2,1090.5 479.3,1094.3 479.9,1098.7 477.4,1101.9 473.6,1103.1 469.8,1100.6 467.3,1103.1 468.6,1108.2 469.8,1113.2 468.6,1117 465.4,1118.3 462.3,1115.8 459.7,1118.3 461,1123.3 458.5,1127.1 454.7,1125.9 450.9,1122.1 447.1,1120.8 443.3,1118.3 442.1,1114.5 444.6,1112 448.4,1110.7 445.9,1108.2 442.1,1106.9 438.3,1105.7 435.8,1103.8 432,1103.1 428.2,1104.4 423.1,1103.1 418.1,1103.8 414.3,1101.9 412.4,1098.7 414.3,1095.6 416.8,1093 415.6,1089.2 417.4,1085.5Z" fill="#f0501e" stroke="#b05030" stroke-width="0.6" stroke-linejoin="round" /><path d="M404.2,1124 405.5,1120.2 409.2,1117.7 413,1114.5 416.8,1112 421.9,1110.7 426.9,1108.8 432,1106.3 435.1,1104.4 437,1106.3 434.5,1110.1 430.7,1113.2 428.8,1117 428.2,1120.8 425.7,1123.3 423.1,1122.1 419.3,1124 415.6,1125.9 410.5,1127.1 406.7,1128.4 404.4,1127.1Z" fill="#f0501e" stroke="#b05030" stroke-width="0.6" stroke-linejoin="round" /><path d="M441.1,1121.8 446.2,1123.1 447.4,1128.2 443.7,1129.9 440.6,1126.9Z" fill="#f0501e" stroke="#b05030" stroke-width="0.6" stroke-linejoin="round" /><path d="M460.1,1128.2 463.9,1128.9 463.4,1132.5 460.3,1131.9Z" fill="#f0501e" stroke="#b05030" stroke-width="0.6" stroke-linejoin="round" /><path d="M361.6,1127.4 365.9,1126.4 367.4,1130.7 364.1,1133.2 361.3,1131.4Z" fill="#c85a3a" stroke="#b05030" stroke-width="0.5" stroke-linejoin="round" /><path d="M395.7,1095.3 400.7,1096.1 402,1099.1 396.9,1098.6Z" fill="#c9b48a" stroke="#9a8060" stroke-width="0.5" stroke-linejoin="round" /><path d="M398.2,1133.2 402,1134.5 403.2,1139.5 399.5,1138.3Z" fill="#c9b48a" stroke="#9a8060" stroke-width="0.5" stroke-linejoin="round" /><path d="M429.8,1140.8 433.6,1141.5 433,1144.6 430,1144.1Z" fill="#c9b48a" stroke="#9a8060" stroke-width="0.5" stroke-linejoin="round" /><path d="M412.1,1150.1 417.1,1149.6 417.4,1152.9 412.8,1153.4Z" fill="#c9b48a" stroke="#9a8060" stroke-width="0.5" stroke-linejoin="round" /><path d="M384.3,1164.3 391.9,1163.5 392.6,1168.6 386.8,1169.3Z" fill="#c9b48a" stroke="#9a8060" stroke-width="0.5" stroke-linejoin="round" /><path d="M381.8,1162.3 384.3,1162.8 383.5,1166Z" fill="#c9b48a" stroke="#9a8060" stroke-width="0.5" stroke-linejoin="round" /><path d="M390.6,1158.5 396.2,1157.7 395.2,1162.3 391.6,1162.8Z" fill="#c9b48a" stroke="#9a8060" stroke-width="0.5" stroke-linejoin="round" /><path d="M379.3,1152.2 383,1153.4 381.8,1156.7Z" fill="#c9b48a" stroke="#9a8060" stroke-width="0.5" stroke-linejoin="round" /><path d="M384.3,1153.4 388.1,1154.2 387.1,1157.2Z" fill="#c9b48a" stroke="#9a8060" stroke-width="0.5" stroke-linejoin="round" /><path d="M409.6,1139.5 412.1,1140 411.3,1142.6Z" fill="#c9b48a" stroke="#9a8060" stroke-width="0.5" stroke-linejoin="round" /><path d="M410.8,1129.9 414.6,1129.4 415.4,1133.2 411.8,1134Z" fill="#c9b48a" stroke="#9a8060" stroke-width="0.5" stroke-linejoin="round" /><path d="M422.2,1147.1 426,1149.6 425.5,1153.4 422.9,1151.6Z" fill="#c9b48a" stroke="#9a8060" stroke-width="0.5" stroke-linejoin="round" /><path d="M510.6,1085.2 514.4,1086.5 515.6,1091 512.4,1089.5Z" fill="#c9b48a" stroke="#9a8060" stroke-width="0.5" stroke-linejoin="round" /><path d="M511.8,1067.5 514.4,1068.1 513.9,1071.3Z" fill="#c9b48a" stroke="#9a8060" stroke-width="0.5" stroke-linejoin="round" /><path d="M539.6,1077.6 542.7,1078.2 541.6,1080.4Z" fill="#c9b48a" stroke="#9a8060" stroke-width="0.5" stroke-linejoin="round" /><path d="M443.1,1159.7 450,1155.9 457.5,1153.4 465.1,1149.6 470.2,1147.6 469.4,1150.1 461.3,1154.2 453.8,1157.7 446.2,1161.8Z" fill="#b0b0b0" stroke="#888" stroke-width="0.5" stroke-linejoin="round" /><path d="M428,1176.1 431,1172.4 436.1,1169.8 435.6,1172.4 431.5,1175.4Z" fill="#b0b0b0" stroke="#888" stroke-width="0.5" stroke-linejoin="round" /><path d="M305.2,1171.1 307.7,1168.6 309.2,1170.3 306.7,1173.6Z" fill="#c9b48a" stroke="#9a8060" stroke-width="0.5" stroke-linejoin="round" /><path d="M307.2,1178.7 314,1177.4 315.3,1179.9 309,1182.5Z" fill="#c9b48a" stroke="#9a8060" stroke-width="0.5" stroke-linejoin="round" /></g>
<g fill="none" stroke="#000" stroke-width="0.9" stroke-opacity="0.9"><line x1="80.4" y1="774.3" x2="82.4" y2="1259.8"/><line x1="148.5" y1="774.3" x2="151.7" y2="1259.8"/><line x1="216.7" y1="774.3" x2="221.1" y2="1259.8"/><line x1="284.4" y1="774.3" x2="290.4" y2="1259.8"/><line x1="352.3" y1="774.3" x2="359.7" y2="1259.8"/><line x1="420.3" y1="774.3" x2="429.0" y2="1259.8"/><line x1="488.5" y1="774.3" x2="498.3" y2="1259.8"/><line x1="555.9" y1="774.3" x2="567.6" y2="1259.8"/><line x1="624.0" y1="774.3" x2="637.0" y2="1259.8"/><path d="M38,791.4 78,791.4 118,791.4 158,791.3 198,791.2 238,790.9 278,790.5 318,789.9 358,789.3 398,788.5 438,787.7 478,786.7 518,785.5 558,784.3 598,782.9 638,781.5 649,781"/><path d="M38,864.6 78,864.6 118,864.6 158,864.6 198,864.4 238,864.1 278,863.7 318,863.3 358,862.7 398,862 438,861.2 478,860.2 518,859.2 558,858.1 598,856.8 638,855.5 649,855.1"/><path d="M38,938.6 78,938.6 118,938.6 158,938.6 198,938.4 238,938.1 278,937.8 318,937.3 358,936.7 398,936 438,935.2 478,934.3 518,933.3 558,932.2 598,931 638,929.7 649,929.3"/><path d="M38,1012.8 78,1012.8 118,1012.8 158,1012.8 198,1012.6 238,1012.4 278,1012 318,1011.6 358,1011 398,1010.4 438,1009.7 478,1008.8 518,1007.9 558,1006.8 598,1005.7 638,1004.4 649,1004.1"/><path d="M38,1087 78,1087 118,1087 158,1087 198,1086.8 238,1086.6 278,1086.3 318,1085.8 358,1085.3 398,1084.7 438,1084 478,1083.2 518,1082.3 558,1081.3 598,1080.2 638,1079 649,1078.7"/><path d="M38,1161 78,1161 118,1161 158,1161 198,1160.8 238,1160.6 278,1160.2 318,1159.8 358,1159.3 398,1158.7 438,1157.9 478,1157.1 518,1156.2 558,1155.2 598,1154.1 638,1152.8 649,1152.5"/><path d="M38,1234.5 78,1234.5 118,1234.5 158,1234.5 198,1234.3 238,1234.1 278,1233.7 318,1233.3 358,1232.8 398,1232.2 438,1231.4 478,1230.6 518,1229.7 558,1228.7 598,1227.6 638,1226.3 649,1226"/></g>
<rect x="43.7" y="780.3" width="598.8" height="473.5" fill="none" stroke="#1a1a1a" stroke-width="1.1"/>
<line x1="43.2" y1="1253.8" x2="643.0" y2="1253.8" stroke="#6a6a6a" stroke-width="1.5"/>
<text class="deg" x="80.4" y="773.5" text-anchor="middle">111°30'</text>
<text class="deg" x="148.5" y="773.5" text-anchor="middle">112°</text>
<text class="deg" x="216.8" y="773.5" text-anchor="middle">112°30'</text>
<text class="deg" x="284.5" y="773.5" text-anchor="middle">113°</text>
<text class="deg" x="352.4" y="773.5" text-anchor="middle">113°30'</text>
<text class="deg" x="420.4" y="773.5" text-anchor="middle">114°</text>
<text class="deg" x="488.6" y="773.5" text-anchor="middle">114°30'</text>
<text class="deg" x="556.0" y="773.5" text-anchor="middle">115°</text>
<text class="deg" x="624.2" y="773.5" text-anchor="middle">115°30'</text>
<text class="deg" transform="translate(37,791.4) rotate(-90)" text-anchor="middle">24°30'</text>
<text class="deg" transform="translate(37,864.6) rotate(-90)" text-anchor="middle">24°</text>
<text class="deg" transform="translate(37,938.6) rotate(-90)" text-anchor="middle">23°30'</text>
<text class="deg" transform="translate(37,1012.8) rotate(-90)" text-anchor="middle">23°</text>
<text class="deg" transform="translate(37,1087) rotate(-90)" text-anchor="middle">22°30'</text>
<text class="deg" transform="translate(37,1161) rotate(-90)" text-anchor="middle">22°</text>
<text class="deg" transform="translate(37,1234.5) rotate(-90)" text-anchor="middle">21°30'</text>
<text class="lab" x="173.7" y="930.8" text-anchor="middle">Zhaoqing</text>
<text class="lab" x="357.7" y="960.4" text-anchor="middle">Guangzhou</text>
<text class="lab" x="469.6" y="976.5" text-anchor="middle">Huizhou</text>
<text class="lab" x="284.0" y="1024.9" text-anchor="middle">Foshan</text>
<text class="lab" x="404.5" y="1022.3" text-anchor="middle">Dongguan</text>
<text class="lab" x="429.2" y="1066.9" text-anchor="middle">Shenzhen</text>
<text class="lab" x="338.9" y="1081.4" text-anchor="middle">Zhongshan</text>
<text class="lab" x="453.4" y="1100.2" text-anchor="middle">Xianggang</text>
<text class="lab" x="241.5" y="1119.1" text-anchor="middle">Jiangmen</text>
<text class="lab" x="333.5" y="1127.1" text-anchor="middle">Zhuhai</text>
<text class="lab" x="366.8" y="1143.3" text-anchor="middle">Aomen</text>
<path d="M62.2,1226.0 V1235.0 H222.4 V1226.0 M82.2,1235.0 v-7 M102.2,1235.0 v-7 M122.3,1235.0 v-7 M142.3,1235.0 v-9 M162.3,1235.0 v-7 M182.3,1235.0 v-7 M202.4,1235.0 v-7" fill="none" stroke="#222" stroke-width="1.1"/>
<text class="san" x="62.2" y="1219.1" font-size="17.5" fill="#111" text-anchor="middle">0</text>
<text class="san" x="102.4" y="1219.1" font-size="17.5" fill="#111" text-anchor="middle">30</text>
<text class="san" x="142.3" y="1219.1" font-size="17.5" fill="#111" text-anchor="middle">60</text>
<text class="san" x="209" y="1219.1" font-size="17.5" fill="#111">120 KM</text>
<!-- 50_china_extra.py -->
<path d="M440.04,244.99 438.64,246.83 438.12,249.86 436.33,251.92 435.57,254.34 435.03,256.78 436.53,258.15 437.66,261.15 439.38,263.14 440.91,265.73 440.96,267.13 437.89,268 437.33,270.02 439.65,271.38 441.55,272.76 442.45,274.77 442.3,276.79 442.38,279 440.77,280.64 438.3,280.69 436.07,282.35 436.57,284.95 434.76,286.81 434.43,289.43 436.16,291.61 437.69,293.8 438.8,296.19 440.3,297.98 442.83,299.14 447.12,297.45 450.17,295.97 452.19,294.13 451.89,291.31 453.27,289.27 456.15,288.8 457.25,290.81 458.77,292.58 461.65,292.52 463.76,293.3 463.21,295.71 462.68,298.36 464.28,296.71 465.87,294.66 468.33,293.81 471.63,293.33 473.03,291.9 474.41,290.06 475.81,288.23 476.18,287.01 473.67,285.84 472.99,284.25 470.93,284.89 467.59,283.94 465.49,282.97 464.19,281.18 464.94,278.76 465.26,275.93 464.36,273.53 464.13,272.93 461.87,273.58 460.48,275.01 458.56,273.65 456.52,274.29 454.66,274.73 452.74,273.15 451.87,271.56 450.97,269.55 452.57,267.8 454.62,266.67 454.97,265.05 453.46,263.27 454.87,261.71 457.31,260.77 459.33,258.72 458.02,256.92 457.11,254.74 455.38,252.35 453.87,250.16 454.35,248.33 453.32,245.94 450.69,247.61 448.17,249.27 447.03,250.09 444.13,250.24 443.96,247.34 443.62,244.6 441.26,244.49Z" fill="#3ea310" stroke="#3ea310" stroke-width="0.3" stroke-linejoin="round" />
<path d="M466.49,236.82 464.67,238.47 461.81,239.73 461.88,241.95 461.71,243.17 460.93,244.58 457.63,244.86 455.82,246.69 454.35,248.33 453.87,250.16 455.38,252.35 457.11,254.74 458.02,256.92 459.33,258.72 461.33,256.67 463.05,258.85 465.99,260.01 468.28,260.15 468.3,260.97 467.11,262.6 468.21,264.8 469.87,264.96 470.93,265.54 473.56,263.88 476.21,262.01 478.89,261.77 480.52,260.92 482.96,259.87 485.62,259.02 483.31,257.65 481.99,255.45 482.96,253.42 484.34,251.58 482.66,250.81 479.77,250.47 476.66,250.72 475.13,248.14 474.04,246.15 475.21,244.51 474.11,242.32 471.73,239.14 469.57,236.36 468.13,236.47Z" fill="#6cc40c" stroke="#6cc40c" stroke-width="0.3" stroke-linejoin="round" />
<path d="M461.33,256.67 463.05,258.85 465.99,260.01 468.28,260.15 468.3,260.97 467.11,262.6 468.21,264.8 468.05,266.41 465.61,267.46 463.36,268.31 464.45,270.1 464.73,272.11 463.11,273.14 461.28,274.6 459.62,274.23 457.54,273.86 455.47,273.71 453.8,273.93 451.69,272.57 451.63,270.56 451.77,268.53 453.59,267.3 455.41,265.84 454.32,264.05 453.64,262.45 456.11,261.6 458.11,259.63 459.92,257.7Z" fill="#b2e010" stroke="#b2e010" stroke-width="0.3" stroke-linejoin="round" />
<path d="M463.36,268.31 464.17,267.68 465.61,267.46 467.04,267.04 468.05,266.41 467.49,267.83 467.32,269.04 467.57,270.25 467.19,271.66 465.97,271.89 464.73,272.11 464.89,270.89 464.45,270.1 463.6,269.31Z" fill="#3ea310" stroke="#3ea310" stroke-width="0.3" stroke-linejoin="round" />
<path d="M470.73,265.55 473.56,263.88 476.21,262.01 478.89,261.77 480.52,260.92 482.96,259.87 485.62,259.02 488.53,259.36 489.64,261.56 491.35,263.33 492.25,265.34 490.23,266.78 488.43,269.03 487.71,271.87 487.36,274.28 485.15,276.54 482.49,277.2 482.14,279.03 480.26,278.86 478.14,277.29 476.05,276.53 474.35,274.95 474.67,272.31 472.59,271.76 470.85,269.37 471.41,267.35 471.38,266.54Z" fill="#3ea310" stroke="#3ea310" stroke-width="0.3" stroke-linejoin="round" />
<path d="M468.86,265.58 470.73,265.55 472.42,266.73 470.6,268.17 471.92,270.56 473.03,272.76 474.51,273.94 475.81,275.53 475.23,276.94 474.05,278.98 474.1,280.59 473.76,282.62 472.16,284.45 468.85,284.52 466.75,283.35 464.43,282.2 464.57,279.98 465.1,277.54 464.81,274.72 464.73,272.11 467.19,271.66 467.32,269.04 468.05,266.41Z" fill="#ffff1a" stroke="#ffff1a" stroke-width="0.3" stroke-linejoin="round" />
<path d="M440.56,299.38 445.29,298.57 448.97,296.72 451.39,295.15 452.56,292.7 452.06,289.9 454.91,288.82 456.6,289.81 458.32,291.79 460.01,292.97 463.31,292.49 463.59,294.51 462.84,296.93 461.66,298.97 459.84,300.42 458.46,302.25 457.29,304.49 456.32,306.73 454.31,308.38 452.92,310.43 453.61,312.63 455.11,314.22 454.13,315.85 452.43,314.67 450.21,316.32 447.9,315.55 445,315 441.87,314.47 439.16,313.71 436.44,312.76 435.53,310.56 435.28,308.95 437.5,307.09 437.41,304.48 438.78,302.04 439.96,299.99Z" fill="#6cc40c" stroke="#6cc40c" stroke-width="0.3" stroke-linejoin="round" />
<path d="M497.71,335.29 500.81,336.02 502.97,338.04 504.97,341.72 506.96,345.03 509.14,347.78 509.76,349.99 511.16,352.74 511.99,355.31 514.72,356.61 516.47,358.08 517.87,360.1 520.21,361.39 521.78,363.05 522.98,364.88 523.38,365.99 523.04,367.82 522.49,369.48 522.71,370.76 523.11,371.86 524.11,373.51 524.51,374.61 522.39,374.97 519.32,375.89 517.42,377.18 517.27,379.57 518.46,381.04 520.43,382.68 522.57,384.34 524.92,385.45 527.43,385.82 526.3,387.28 525.17,388.58 523.46,390.04 521.73,390.96 521.17,391.88 523.09,390.58 525.19,389.3 526.34,389.67 526.39,392.05 527.01,394.27 525.87,395.54 524.52,395.01 522.95,393.9 522.2,394.45 523.56,395.54 524.18,397.2 524.21,399.03 523.28,400.5 524.27,402.35 524.32,404.55 522.97,405.46 521.45,406.76 519.93,407.85 519.15,407.12 519.87,404.91 518.87,403.07 517.53,403.07 515.98,402.71 514.04,402.34 511.92,402.51 510.4,403.62 509.8,402.51 510.35,400.87 509.33,398.85 508.2,399.57 506.27,400.49 504.37,401.59 502.85,403.25 501.11,403.42 500.12,401.78 498.94,399.93 498.5,397.92 497.5,395.9 496.43,395.9 494.48,395.71 492.94,395.7 491.03,396.44 489.65,394.97 487.89,393.68 489.61,392.4 491.31,390.93 492.43,388.72 492.96,386.53 491.43,386.89 489.52,387.8 488.33,386.52 486.56,385.23 485.57,383.58 484.39,382.47 483.23,382.84 482.3,384.49 480.78,385.96 478.68,387.24 476.39,388.15 475.05,389.45 474.52,391.28 472.8,392.2 471.08,393.3 469.71,392.19 471.03,390.91 472.16,389.26 470.6,388.15 468.86,388.53 467.54,389.99 465.05,390.91 463.46,388.33 462.63,385.95 461.25,383.92 460.24,381.71 460.4,380.24 461.33,378.6 462.65,376.58 464.95,375.84 466.49,375.67 467.67,376.58 469.98,376.03 472.08,374.38 472.61,372.73 474.32,371.08 472.19,370.52 469.09,370.33 469.25,368.31 469.22,366.3 471.5,365.2 471.26,362.26 471.79,359.32 472.92,358.59 473.28,356.38 475.57,355.28 477.28,353.81 479.58,353.26 481.3,352.17 482.24,350.7 483.05,352.17 483.86,354.56 485.43,356.21 488.33,355.66 489.05,353.65 491.17,353.27 493.32,354.38 494.45,352.72 493.04,350.34 492.63,348.69 494.93,347.59 495.87,346.48 495.82,343.91 495.77,340.97 494.76,338.4 497.03,336.39Z" fill="#4da51d" stroke="#4da51d" stroke-width="0.3" stroke-linejoin="round" />
<path d="M472.45,373.82 473.64,375.29 475.39,376.59 477.5,375.85 480,375.12 482.34,376.04 484.1,377.33 482.97,378.98 484.72,379.9 486.24,378.62 487.39,377.88 488.31,375.86 490.03,374.39 489.79,372.37 488.43,371.82 486.66,370.35 484.54,370.72 482.63,371.26 481.45,370.34 481.41,368.14 481.37,365.95 483.31,365.95 486.39,365.4 487.94,365.95 490.26,366.68 491.26,368.52 491.12,370.73 489.79,372.2 491.54,372.94 493.85,372.2 494.78,370.37 494.54,368.16 492.77,366.69 491.77,364.66 492.12,362.47 493.65,361.55 496.73,360.81 499.8,359.9 501.17,361.56 502.54,362.84 504.12,363.76 506.43,363.76 507.52,364.12 508.71,366.34 508.56,367.98 506.26,369.27 503.75,369.27 503.4,371.1 503.45,373.3 504.44,374.96 507.16,375.51 508.74,377.35 507.61,379.18 506.29,380.66 504.17,380.83 502.04,380.66 500.5,381.02 498.6,381.93 497.14,382.49 494.83,383.21 492.92,383.95 492.88,386.34 491.43,386.89 489.52,387.8 488.33,386.52 486.56,385.23 485.57,383.58 484.39,382.47 483.23,382.84 482.3,384.49 480.78,385.96 478.68,387.24 476.39,388.15 475.05,389.45 474.52,391.28 472.8,392.2 471.08,393.3 469.71,392.19 471.03,390.91 472.16,389.26 470.6,388.15 468.86,388.53 467.54,389.99 465.05,390.91 463.46,388.33 462.63,385.95 461.25,383.92 460.24,381.71 460.4,380.24 461.33,378.6 462.65,376.58 464.95,375.84 466.49,375.67 467.67,376.58 469.98,376.03 472.08,374.38Z" fill="#1f7a1c" stroke="#1f7a1c" stroke-width="0.3" stroke-linejoin="round" />
<path d="M511.99,355.31 509.29,355.86 506.96,355.5 504.84,354.94 504.29,356.6 504.71,358.62 505.92,360.82 508.63,361.93 510.78,363.57 513.13,364.68 514.86,363.96 516.79,364.32 519.9,365.24 522.61,365.43 522.38,363.96 521.18,362.11 519.03,360.83 516.88,359.17 515.88,357.15 513.16,355.87Z" fill="#1f7a1c" stroke="#1f7a1c" stroke-width="0.3" stroke-linejoin="round" />
<path d="M508.1,384.69 510.59,383.78 512.89,382.67 514.47,384.33 515.46,386.17 516.46,387.64 516.31,389.85 518.07,391.32 518.3,392.98 516.19,393.51 514.46,394.62 513.53,396.09 512.99,398.11 511.07,398.85 509.33,398.85 508.2,399.57 506.27,400.49 504.37,401.59 502.85,403.25 501.11,403.42 500.12,401.78 498.94,399.93 498.5,397.92 497.5,395.9 498.63,394.05 501.12,393.5 502.83,391.31 504.73,390.2 506.04,388.01 507.95,386.71Z" fill="#1f7a1c" stroke="#1f7a1c" stroke-width="0.3" stroke-linejoin="round" />
<path d="M471.79,359.32 474.69,360.07 476.08,362.45 478.99,362.27 480.37,364.1 481.37,365.95 481.41,368.14 481.45,370.34 479.33,370.89 478.03,373.28 477.5,375.85 475.39,376.59 473.64,375.29 472.45,373.82 473.17,371.8 473.73,370.71 470.26,370.71 469.46,369.24 468.46,367.39 470.16,365.39 471.29,363.73 471.42,360.79Z" fill="#a9d32b" stroke="#a9d32b" stroke-width="0.3" stroke-linejoin="round" />
<path d="M487.39,357.68 490.29,357.68 491.66,358.98 492.49,361.36 491.56,363.56 492.19,365.77 493.76,367.43 494.36,369.26 494.8,371.46 492.89,372.75 490.38,372.75 490.35,371.45 491.48,369.62 491.06,367.43 489.11,366.32 486.98,366.32 486.54,364.11 487.87,362.08 488.21,359.89Z" fill="#a9d32b" stroke="#a9d32b" stroke-width="0.3" stroke-linejoin="round" />
<path d="M514.86,363.96 516.79,364.32 519.9,365.24 522.61,365.43 523.6,367.08 522.67,368.92 523.08,370.2 522.32,371.31 523.71,372.59 524.51,374.61 523.75,374.79 520.85,375.34 518.19,376.63 516.64,376.63 514.3,375.52 513.87,373.13 514.23,371.66 514.96,369.45 516.28,367.99 516.05,366.53 514.09,364.68Z" fill="#a9d32b" stroke="#a9d32b" stroke-width="0.3" stroke-linejoin="round" />
<path d="M431.9,468.78 432.88,468.59 434.03,468.1 434.58,467.07 435.53,466.27 436.39,465.56 437.16,465.79 438.27,466.22 438.42,465.3 439.17,464.38 440.03,463.88 441.28,463.18 442.86,463.12 446.9,473.49 445.85,476.38 446.76,476.84 447.67,477.25 448.31,478.1 449.11,478.28 449.92,478.78 449.54,479.23 448.97,479.63 449.77,479.86 450.3,480.6 449.43,480.99 448.81,480.45 448.28,479.61 447.18,479.49 446.41,479.88 445.23,479.85 443.66,480.23 442.79,480.62 442.2,480.72 441.66,479.67 441.11,478.41 440.38,477.67 439.18,477.42 438.62,478.14 439.47,479.4 439.93,480.66 439.38,481.59 440.07,481.5 439.71,482.43 439.37,483.55 439.13,484.59 438.72,484.99 438.02,485.49 437.36,486.21 436.47,486.39 435.99,486.59 436.44,487.64 435.85,487.73 435.11,486.67 434.46,485.52 434.29,484.16 434.55,483.34 434.99,482.21 435.26,481.59 435.43,480.97 434.69,479.81 434.52,478.36 434.8,478.08 435.85,477.38 436.62,476.77 435.78,475.82 435.22,474.35 434.39,473.61 434.64,472.57 434.29,471.42 433.47,470.68 432.88,470.87 432.03,469.61Z" fill="#fba414" stroke="#fba414" stroke-width="0.3" stroke-linejoin="round" />
<path d="M423.95,457.38 424.98,458.23 425.72,459.39 425.98,460.64 426.43,461.79 427.36,462.55 428.48,463.19 428.73,464.45 429.18,465.6 429.51,466.44 430.05,467.48 430.31,468.53 429.96,469.56 430.77,470.1 430.43,471.23 429.98,472.15 430.54,473.41 430.38,474.45 429.42,475.05 428.47,475.75 427.41,476.35 426.34,476.74 425.34,476.51 424.9,475.57 424.85,474.52 424.8,473.39 424.68,472.86 423.51,473.36 422.13,473.28 421.21,472.68 419.92,472.54 418.52,472.19 417.31,471.65 416.59,471.01 415.87,470.58 414.76,470.03 415.1,468.79 415.73,467.57 415.98,466.43 417.25,466.25 417.2,465.11 417.74,463.98 419.13,464.11 419.47,462.98 420.21,461.96 419.76,460.71 419.69,459.25 420.79,459.48 421.46,459.09 422.17,459.41 422.96,459.43 423.71,458.41Z" fill="#6cc40c" stroke="#6cc40c" stroke-width="0.3" stroke-linejoin="round" />
<path d="M430.35,467.49 431.15,467.72 431.39,468.55 432.03,469.61 432.88,470.87 433.47,470.68 434.29,471.42 434.64,472.57 434.39,473.61 435.22,474.35 435.78,475.82 436.62,476.77 435.85,477.38 434.8,478.08 434.52,478.36 434.69,479.81 435.43,480.97 435.26,481.59 434.99,482.21 434.55,483.34 434.29,484.16 433.55,485.08 433.51,486.32 433.36,487.46 432.61,488.28 431.78,487.53 430.8,487.51 430.05,488.42 429.2,489.34 428.1,489 427.26,487.94 427.92,487.23 427.22,487.21 426.98,488.14 426.94,489.49 425.77,489.98 426.22,488.85 426.55,487.61 426.6,486.47 426.39,486.26 425.41,486.34 424.38,485.48 423.16,484.73 422.74,484.3 422.29,483.15 422.85,482.33 424,481.64 424.85,480.72 425.39,479.7 426.05,478.99 426.19,477.74 425.66,476.92 426.93,476.54 427.99,476.05 429.05,475.46 429.9,474.64 430.66,474.04 430.3,472.78 430.05,471.64 430.7,470.72 430.37,469.78 430.03,469.05 430.38,468.01Z" fill="#ffff1a" stroke="#ffff1a" stroke-width="0.3" stroke-linejoin="round" />
<path d="M442.86,463.12 444.03,462.83 445.12,462.86 445.85,463.5 446.09,464.54 446.93,465.6 447.93,465.83 448.67,466.89 449.69,467.64 450.22,468.38 449.78,469.4 450.59,469.94 451.33,470.9 451.78,472.05 452.26,471.85 452.7,470.62 453.29,470.52 454.07,470.44 455.14,469.94 456.41,469.67 457.24,470.52 458.17,471.37 457.32,472.28 456.56,472.99 456.11,473.81 455.15,474.31 454.08,474.8 453.23,475.72 453.88,476.77 454.32,477.81 453.67,478.63 453.22,479.65 452.21,479.33 451.4,478.78 451.54,477.54 452.2,476.83 451.52,477.02 450.45,477.41 449.48,478.01 448.71,478.41 447.89,477.66 447.17,477.13 446.26,476.69 445.72,475.75 445.19,474.8 444.55,473.85 443.73,473.21 442.74,473.18 441.54,473.05 441.7,472.12 441.74,470.98 442.31,470.47 442.7,470.07 442.24,468.81 441.5,467.75 440.75,466.7 441.51,465.99 442.56,465.18 442.82,464.47Z" fill="#ffff1a" stroke="#ffff1a" stroke-width="0.3" stroke-linejoin="round" />
<path d="M443.05,480.34 444.32,480.06 445.59,479.83 446.5,480.11 447.02,480.75 447.42,480.86 447.89,481.49 447.77,482.11 447.17,481.99 447.11,482.62 447.14,483.34 446.65,483.23 446.57,483.85 446.09,484.05 445.47,483.61 445.06,483.09 445.54,482.79 445.03,482.46 444.52,482.19 443.93,482.23 443.14,482.16 442.67,481.73 442.99,481.27 443.01,480.65Z" fill="#f0501e" stroke="#f0501e" stroke-width="0.3" stroke-linejoin="round" />
<path d="M442.13,483.8 442.21,483.49 442.49,483.29 442.78,483.03 443.07,482.83 443.46,482.74 443.85,482.59 444.24,482.39 444.47,482.24 444.63,482.4 444.45,482.71 444.16,482.96 444.03,483.27 443.99,483.58 443.81,483.78 443.6,483.68 443.31,483.83 443.03,483.98 442.63,484.06 442.34,484.16 442.15,484.05Z" fill="#f0501e" stroke="#f0501e" stroke-width="0.3" stroke-linejoin="round" />
<text class="ser" x="64" y="436.6" font-size="17.5" fill="#222" text-anchor="middle">N</text>
<path d="M64.3,445.9 L82.9,497.2 L65.3,487 L48.1,497.8 Z" fill="#000"/>
<path d="M48.5,546.1 V554.7 H222.5 V546.1 M70.2,554.7 v-6.8 M92.0,554.7 v-6.8 M113.8,554.7 v-6.8 M135.5,554.7 v-8.6 M157.2,554.7 v-6.8 M179.0,554.7 v-6.8 M200.8,554.7 v-6.8" fill="none" stroke="#111" stroke-width="1.1"/>
<text class="san" x="48.7" y="538.9" font-size="17.3" fill="#111" text-anchor="middle">0</text>
<text class="san" x="91.8" y="538.9" font-size="17.3" fill="#111" text-anchor="middle">400</text>
<text class="san" x="135.4" y="538.9" font-size="17.3" fill="#111" text-anchor="middle">800</text>
<text class="san" x="201.2" y="538.9" font-size="17.3" fill="#111">1,600 KM</text>
<text class="ser" x="41.5" y="640.7" font-size="27.3" font-weight="bold" fill="#111">CAI</text>
<rect x="41.9" y="651.8" width="27" height="12.8" fill="#1b6e20" stroke="#6e6e3c" stroke-width="0.8"/>
<text class="ser" x="74.8" y="664.4" font-size="18.4" font-weight="bold" fill="#111">6.01 - 8.00</text>
<rect x="41.9" y="677.7" width="27" height="12.8" fill="#4d9e22" stroke="#6e6e3c" stroke-width="0.8"/>
<text class="ser" x="74.8" y="690.3" font-size="18.4" font-weight="bold" fill="#111">8.01 - 10.00</text>
<rect x="41.9" y="703.6" width="27" height="12.8" fill="#a3cc2e" stroke="#6e6e3c" stroke-width="0.8"/>
<text class="ser" x="74.8" y="716.2" font-size="18.4" font-weight="bold" fill="#111">10.01 - 12.00</text>
<rect x="41.9" y="729.5" width="27" height="12.8" fill="#f6f62e" stroke="#6e6e3c" stroke-width="0.8"/>
<text class="ser" x="74.8" y="742.1" font-size="18.4" font-weight="bold" fill="#111">12.01 - 20.00</text>
<rect x="216.1" y="651.8" width="27" height="12.8" fill="#fbc52d" stroke="#6e6e3c" stroke-width="0.8"/>
<text class="ser" x="249.0" y="664.4" font-size="18.4" font-weight="bold" fill="#111">20.01 - 40.00</text>
<rect x="216.1" y="677.7" width="27" height="12.8" fill="#f7901e" stroke="#6e6e3c" stroke-width="0.8"/>
<text class="ser" x="249.0" y="690.3" font-size="18.4" font-weight="bold" fill="#111">40.01 - 175.45</text>
<rect x="216.1" y="703.6" width="27" height="12.8" fill="#f0401e" stroke="#6e6e3c" stroke-width="0.8"/>
<text class="ser" x="249.0" y="716.2" font-size="18.4" font-weight="bold" fill="#111">175.46 - 216.87</text>
</svg>
</body></html>
